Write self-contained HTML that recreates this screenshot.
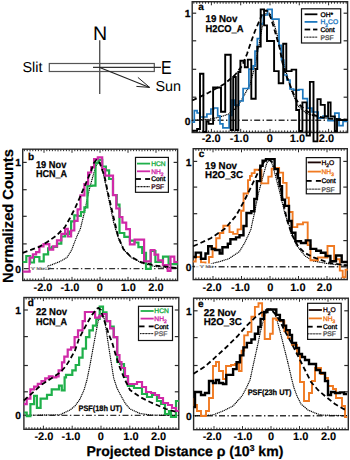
<!DOCTYPE html>
<html><head><meta charset="utf-8"><style>
html,body{margin:0;padding:0;background:#fff;width:350px;height:460px;overflow:hidden}
svg{display:block}
text{font-family:"Liberation Sans", sans-serif;text-rendering:geometricPrecision}
</style></head><body>
<svg width="350" height="460" viewBox="0 0 350 460" font-family='"Liberation Sans", sans-serif'>
<rect width="350" height="460" fill="#fff"/>
<rect x="192.2" y="1.7" width="155.40" height="130.80" fill="none" stroke="#2a2a2a" stroke-width="1.4"/>
<line x1="193.82" y1="1.70" x2="193.82" y2="3.70" stroke="#2a2a2a" stroke-width="1.0" />
<line x1="193.82" y1="132.50" x2="193.82" y2="130.50" stroke="#2a2a2a" stroke-width="1.0" />
<line x1="196.75" y1="1.70" x2="196.75" y2="3.90" stroke="#2a2a2a" stroke-width="1.0" />
<line x1="196.75" y1="132.50" x2="196.75" y2="130.30" stroke="#2a2a2a" stroke-width="1.0" />
<line x1="199.68" y1="1.70" x2="199.68" y2="3.70" stroke="#2a2a2a" stroke-width="1.0" />
<line x1="199.68" y1="132.50" x2="199.68" y2="130.50" stroke="#2a2a2a" stroke-width="1.0" />
<line x1="202.61" y1="1.70" x2="202.61" y2="3.70" stroke="#2a2a2a" stroke-width="1.0" />
<line x1="202.61" y1="132.50" x2="202.61" y2="130.50" stroke="#2a2a2a" stroke-width="1.0" />
<line x1="205.54" y1="1.70" x2="205.54" y2="3.70" stroke="#2a2a2a" stroke-width="1.0" />
<line x1="205.54" y1="132.50" x2="205.54" y2="130.50" stroke="#2a2a2a" stroke-width="1.0" />
<line x1="208.47" y1="1.70" x2="208.47" y2="3.70" stroke="#2a2a2a" stroke-width="1.0" />
<line x1="208.47" y1="132.50" x2="208.47" y2="130.50" stroke="#2a2a2a" stroke-width="1.0" />
<line x1="211.40" y1="1.70" x2="211.40" y2="5.30" stroke="#2a2a2a" stroke-width="1.0" />
<line x1="211.40" y1="132.50" x2="211.40" y2="128.90" stroke="#2a2a2a" stroke-width="1.0" />
<line x1="214.33" y1="1.70" x2="214.33" y2="3.70" stroke="#2a2a2a" stroke-width="1.0" />
<line x1="214.33" y1="132.50" x2="214.33" y2="130.50" stroke="#2a2a2a" stroke-width="1.0" />
<line x1="217.26" y1="1.70" x2="217.26" y2="3.70" stroke="#2a2a2a" stroke-width="1.0" />
<line x1="217.26" y1="132.50" x2="217.26" y2="130.50" stroke="#2a2a2a" stroke-width="1.0" />
<line x1="220.19" y1="1.70" x2="220.19" y2="3.70" stroke="#2a2a2a" stroke-width="1.0" />
<line x1="220.19" y1="132.50" x2="220.19" y2="130.50" stroke="#2a2a2a" stroke-width="1.0" />
<line x1="223.12" y1="1.70" x2="223.12" y2="3.70" stroke="#2a2a2a" stroke-width="1.0" />
<line x1="223.12" y1="132.50" x2="223.12" y2="130.50" stroke="#2a2a2a" stroke-width="1.0" />
<line x1="226.05" y1="1.70" x2="226.05" y2="3.90" stroke="#2a2a2a" stroke-width="1.0" />
<line x1="226.05" y1="132.50" x2="226.05" y2="130.30" stroke="#2a2a2a" stroke-width="1.0" />
<line x1="228.98" y1="1.70" x2="228.98" y2="3.70" stroke="#2a2a2a" stroke-width="1.0" />
<line x1="228.98" y1="132.50" x2="228.98" y2="130.50" stroke="#2a2a2a" stroke-width="1.0" />
<line x1="231.91" y1="1.70" x2="231.91" y2="3.70" stroke="#2a2a2a" stroke-width="1.0" />
<line x1="231.91" y1="132.50" x2="231.91" y2="130.50" stroke="#2a2a2a" stroke-width="1.0" />
<line x1="234.84" y1="1.70" x2="234.84" y2="3.70" stroke="#2a2a2a" stroke-width="1.0" />
<line x1="234.84" y1="132.50" x2="234.84" y2="130.50" stroke="#2a2a2a" stroke-width="1.0" />
<line x1="237.77" y1="1.70" x2="237.77" y2="3.70" stroke="#2a2a2a" stroke-width="1.0" />
<line x1="237.77" y1="132.50" x2="237.77" y2="130.50" stroke="#2a2a2a" stroke-width="1.0" />
<line x1="240.70" y1="1.70" x2="240.70" y2="5.30" stroke="#2a2a2a" stroke-width="1.0" />
<line x1="240.70" y1="132.50" x2="240.70" y2="128.90" stroke="#2a2a2a" stroke-width="1.0" />
<line x1="243.63" y1="1.70" x2="243.63" y2="3.70" stroke="#2a2a2a" stroke-width="1.0" />
<line x1="243.63" y1="132.50" x2="243.63" y2="130.50" stroke="#2a2a2a" stroke-width="1.0" />
<line x1="246.56" y1="1.70" x2="246.56" y2="3.70" stroke="#2a2a2a" stroke-width="1.0" />
<line x1="246.56" y1="132.50" x2="246.56" y2="130.50" stroke="#2a2a2a" stroke-width="1.0" />
<line x1="249.49" y1="1.70" x2="249.49" y2="3.70" stroke="#2a2a2a" stroke-width="1.0" />
<line x1="249.49" y1="132.50" x2="249.49" y2="130.50" stroke="#2a2a2a" stroke-width="1.0" />
<line x1="252.42" y1="1.70" x2="252.42" y2="3.70" stroke="#2a2a2a" stroke-width="1.0" />
<line x1="252.42" y1="132.50" x2="252.42" y2="130.50" stroke="#2a2a2a" stroke-width="1.0" />
<line x1="255.35" y1="1.70" x2="255.35" y2="3.90" stroke="#2a2a2a" stroke-width="1.0" />
<line x1="255.35" y1="132.50" x2="255.35" y2="130.30" stroke="#2a2a2a" stroke-width="1.0" />
<line x1="258.28" y1="1.70" x2="258.28" y2="3.70" stroke="#2a2a2a" stroke-width="1.0" />
<line x1="258.28" y1="132.50" x2="258.28" y2="130.50" stroke="#2a2a2a" stroke-width="1.0" />
<line x1="261.21" y1="1.70" x2="261.21" y2="3.70" stroke="#2a2a2a" stroke-width="1.0" />
<line x1="261.21" y1="132.50" x2="261.21" y2="130.50" stroke="#2a2a2a" stroke-width="1.0" />
<line x1="264.14" y1="1.70" x2="264.14" y2="3.70" stroke="#2a2a2a" stroke-width="1.0" />
<line x1="264.14" y1="132.50" x2="264.14" y2="130.50" stroke="#2a2a2a" stroke-width="1.0" />
<line x1="267.07" y1="1.70" x2="267.07" y2="3.70" stroke="#2a2a2a" stroke-width="1.0" />
<line x1="267.07" y1="132.50" x2="267.07" y2="130.50" stroke="#2a2a2a" stroke-width="1.0" />
<line x1="270.00" y1="1.70" x2="270.00" y2="5.30" stroke="#2a2a2a" stroke-width="1.0" />
<line x1="270.00" y1="132.50" x2="270.00" y2="128.90" stroke="#2a2a2a" stroke-width="1.0" />
<line x1="272.93" y1="1.70" x2="272.93" y2="3.70" stroke="#2a2a2a" stroke-width="1.0" />
<line x1="272.93" y1="132.50" x2="272.93" y2="130.50" stroke="#2a2a2a" stroke-width="1.0" />
<line x1="275.86" y1="1.70" x2="275.86" y2="3.70" stroke="#2a2a2a" stroke-width="1.0" />
<line x1="275.86" y1="132.50" x2="275.86" y2="130.50" stroke="#2a2a2a" stroke-width="1.0" />
<line x1="278.79" y1="1.70" x2="278.79" y2="3.70" stroke="#2a2a2a" stroke-width="1.0" />
<line x1="278.79" y1="132.50" x2="278.79" y2="130.50" stroke="#2a2a2a" stroke-width="1.0" />
<line x1="281.72" y1="1.70" x2="281.72" y2="3.70" stroke="#2a2a2a" stroke-width="1.0" />
<line x1="281.72" y1="132.50" x2="281.72" y2="130.50" stroke="#2a2a2a" stroke-width="1.0" />
<line x1="284.65" y1="1.70" x2="284.65" y2="3.90" stroke="#2a2a2a" stroke-width="1.0" />
<line x1="284.65" y1="132.50" x2="284.65" y2="130.30" stroke="#2a2a2a" stroke-width="1.0" />
<line x1="287.58" y1="1.70" x2="287.58" y2="3.70" stroke="#2a2a2a" stroke-width="1.0" />
<line x1="287.58" y1="132.50" x2="287.58" y2="130.50" stroke="#2a2a2a" stroke-width="1.0" />
<line x1="290.51" y1="1.70" x2="290.51" y2="3.70" stroke="#2a2a2a" stroke-width="1.0" />
<line x1="290.51" y1="132.50" x2="290.51" y2="130.50" stroke="#2a2a2a" stroke-width="1.0" />
<line x1="293.44" y1="1.70" x2="293.44" y2="3.70" stroke="#2a2a2a" stroke-width="1.0" />
<line x1="293.44" y1="132.50" x2="293.44" y2="130.50" stroke="#2a2a2a" stroke-width="1.0" />
<line x1="296.37" y1="1.70" x2="296.37" y2="3.70" stroke="#2a2a2a" stroke-width="1.0" />
<line x1="296.37" y1="132.50" x2="296.37" y2="130.50" stroke="#2a2a2a" stroke-width="1.0" />
<line x1="299.30" y1="1.70" x2="299.30" y2="5.30" stroke="#2a2a2a" stroke-width="1.0" />
<line x1="299.30" y1="132.50" x2="299.30" y2="128.90" stroke="#2a2a2a" stroke-width="1.0" />
<line x1="302.23" y1="1.70" x2="302.23" y2="3.70" stroke="#2a2a2a" stroke-width="1.0" />
<line x1="302.23" y1="132.50" x2="302.23" y2="130.50" stroke="#2a2a2a" stroke-width="1.0" />
<line x1="305.16" y1="1.70" x2="305.16" y2="3.70" stroke="#2a2a2a" stroke-width="1.0" />
<line x1="305.16" y1="132.50" x2="305.16" y2="130.50" stroke="#2a2a2a" stroke-width="1.0" />
<line x1="308.09" y1="1.70" x2="308.09" y2="3.70" stroke="#2a2a2a" stroke-width="1.0" />
<line x1="308.09" y1="132.50" x2="308.09" y2="130.50" stroke="#2a2a2a" stroke-width="1.0" />
<line x1="311.02" y1="1.70" x2="311.02" y2="3.70" stroke="#2a2a2a" stroke-width="1.0" />
<line x1="311.02" y1="132.50" x2="311.02" y2="130.50" stroke="#2a2a2a" stroke-width="1.0" />
<line x1="313.95" y1="1.70" x2="313.95" y2="3.90" stroke="#2a2a2a" stroke-width="1.0" />
<line x1="313.95" y1="132.50" x2="313.95" y2="130.30" stroke="#2a2a2a" stroke-width="1.0" />
<line x1="316.88" y1="1.70" x2="316.88" y2="3.70" stroke="#2a2a2a" stroke-width="1.0" />
<line x1="316.88" y1="132.50" x2="316.88" y2="130.50" stroke="#2a2a2a" stroke-width="1.0" />
<line x1="319.81" y1="1.70" x2="319.81" y2="3.70" stroke="#2a2a2a" stroke-width="1.0" />
<line x1="319.81" y1="132.50" x2="319.81" y2="130.50" stroke="#2a2a2a" stroke-width="1.0" />
<line x1="322.74" y1="1.70" x2="322.74" y2="3.70" stroke="#2a2a2a" stroke-width="1.0" />
<line x1="322.74" y1="132.50" x2="322.74" y2="130.50" stroke="#2a2a2a" stroke-width="1.0" />
<line x1="325.67" y1="1.70" x2="325.67" y2="3.70" stroke="#2a2a2a" stroke-width="1.0" />
<line x1="325.67" y1="132.50" x2="325.67" y2="130.50" stroke="#2a2a2a" stroke-width="1.0" />
<line x1="328.60" y1="1.70" x2="328.60" y2="5.30" stroke="#2a2a2a" stroke-width="1.0" />
<line x1="328.60" y1="132.50" x2="328.60" y2="128.90" stroke="#2a2a2a" stroke-width="1.0" />
<line x1="331.53" y1="1.70" x2="331.53" y2="3.70" stroke="#2a2a2a" stroke-width="1.0" />
<line x1="331.53" y1="132.50" x2="331.53" y2="130.50" stroke="#2a2a2a" stroke-width="1.0" />
<line x1="334.46" y1="1.70" x2="334.46" y2="3.70" stroke="#2a2a2a" stroke-width="1.0" />
<line x1="334.46" y1="132.50" x2="334.46" y2="130.50" stroke="#2a2a2a" stroke-width="1.0" />
<line x1="337.39" y1="1.70" x2="337.39" y2="3.70" stroke="#2a2a2a" stroke-width="1.0" />
<line x1="337.39" y1="132.50" x2="337.39" y2="130.50" stroke="#2a2a2a" stroke-width="1.0" />
<line x1="340.32" y1="1.70" x2="340.32" y2="3.70" stroke="#2a2a2a" stroke-width="1.0" />
<line x1="340.32" y1="132.50" x2="340.32" y2="130.50" stroke="#2a2a2a" stroke-width="1.0" />
<line x1="343.25" y1="1.70" x2="343.25" y2="3.90" stroke="#2a2a2a" stroke-width="1.0" />
<line x1="343.25" y1="132.50" x2="343.25" y2="130.30" stroke="#2a2a2a" stroke-width="1.0" />
<line x1="346.18" y1="1.70" x2="346.18" y2="3.70" stroke="#2a2a2a" stroke-width="1.0" />
<line x1="346.18" y1="132.50" x2="346.18" y2="130.50" stroke="#2a2a2a" stroke-width="1.0" />
<line x1="192.20" y1="13.20" x2="196.20" y2="13.20" stroke="#2a2a2a" stroke-width="1.2" />
<line x1="347.60" y1="13.20" x2="343.60" y2="13.20" stroke="#2a2a2a" stroke-width="1.2" />
<line x1="192.20" y1="40.80" x2="196.20" y2="40.80" stroke="#2a2a2a" stroke-width="1.2" />
<line x1="347.60" y1="40.80" x2="343.60" y2="40.80" stroke="#2a2a2a" stroke-width="1.2" />
<line x1="192.20" y1="69.30" x2="196.20" y2="69.30" stroke="#2a2a2a" stroke-width="1.2" />
<line x1="347.60" y1="69.30" x2="343.60" y2="69.30" stroke="#2a2a2a" stroke-width="1.2" />
<line x1="192.20" y1="97.20" x2="196.20" y2="97.20" stroke="#2a2a2a" stroke-width="1.2" />
<line x1="347.60" y1="97.20" x2="343.60" y2="97.20" stroke="#2a2a2a" stroke-width="1.2" />
<text x="211.20" y="142.10" font-size="11" font-weight="bold" fill="#000" stroke="#000" stroke-width="0.1" text-anchor="middle" >-2.0</text>
<text x="239.30" y="142.10" font-size="11" font-weight="bold" fill="#000" stroke="#000" stroke-width="0.1" text-anchor="middle" >-1.0</text>
<text x="269.70" y="142.10" font-size="11" font-weight="bold" fill="#000" stroke="#000" stroke-width="0.1" text-anchor="middle" >0</text>
<text x="297.50" y="142.10" font-size="11" font-weight="bold" fill="#000" stroke="#000" stroke-width="0.1" text-anchor="middle" >1.0</text>
<text x="326.50" y="142.10" font-size="11" font-weight="bold" fill="#000" stroke="#000" stroke-width="0.1" text-anchor="middle" >2.0</text>
<text x="190.40" y="17.40" font-size="10.3" font-weight="bold" fill="#000" stroke="#000" stroke-width="0.25" text-anchor="end" >1</text>
<text x="190.40" y="124.50" font-size="10.3" font-weight="bold" fill="#000" stroke="#000" stroke-width="0.25" text-anchor="end" >0</text>
<text x="198.20" y="9.60" font-size="10" font-weight="bold" fill="#000" stroke="#000" stroke-width="0.25" text-anchor="start" >a</text>
<text x="205.50" y="22.10" font-size="9.9" font-weight="bold" fill="#000" stroke="#000" stroke-width="0.25" text-anchor="start" textLength="31.9" lengthAdjust="spacingAndGlyphs">19 Nov</text>
<text x="205.50" y="31.60" font-size="9.9" font-weight="bold" fill="#000" stroke="#000" stroke-width="0.25" text-anchor="start" textLength="38.0" lengthAdjust="spacingAndGlyphs">H2CO_A</text>
<rect x="22.7" y="149.2" width="154.90" height="131.30" fill="none" stroke="#2a2a2a" stroke-width="1.4"/>
<line x1="24.40" y1="149.20" x2="24.40" y2="151.20" stroke="#2a2a2a" stroke-width="1.0" />
<line x1="24.40" y1="280.50" x2="24.40" y2="278.50" stroke="#2a2a2a" stroke-width="1.0" />
<line x1="27.20" y1="149.20" x2="27.20" y2="151.20" stroke="#2a2a2a" stroke-width="1.0" />
<line x1="27.20" y1="280.50" x2="27.20" y2="278.50" stroke="#2a2a2a" stroke-width="1.0" />
<line x1="30.00" y1="149.20" x2="30.00" y2="151.40" stroke="#2a2a2a" stroke-width="1.0" />
<line x1="30.00" y1="280.50" x2="30.00" y2="278.30" stroke="#2a2a2a" stroke-width="1.0" />
<line x1="32.80" y1="149.20" x2="32.80" y2="151.20" stroke="#2a2a2a" stroke-width="1.0" />
<line x1="32.80" y1="280.50" x2="32.80" y2="278.50" stroke="#2a2a2a" stroke-width="1.0" />
<line x1="35.60" y1="149.20" x2="35.60" y2="151.20" stroke="#2a2a2a" stroke-width="1.0" />
<line x1="35.60" y1="280.50" x2="35.60" y2="278.50" stroke="#2a2a2a" stroke-width="1.0" />
<line x1="38.40" y1="149.20" x2="38.40" y2="151.20" stroke="#2a2a2a" stroke-width="1.0" />
<line x1="38.40" y1="280.50" x2="38.40" y2="278.50" stroke="#2a2a2a" stroke-width="1.0" />
<line x1="41.20" y1="149.20" x2="41.20" y2="151.20" stroke="#2a2a2a" stroke-width="1.0" />
<line x1="41.20" y1="280.50" x2="41.20" y2="278.50" stroke="#2a2a2a" stroke-width="1.0" />
<line x1="44.00" y1="149.20" x2="44.00" y2="152.80" stroke="#2a2a2a" stroke-width="1.0" />
<line x1="44.00" y1="280.50" x2="44.00" y2="276.90" stroke="#2a2a2a" stroke-width="1.0" />
<line x1="46.80" y1="149.20" x2="46.80" y2="151.20" stroke="#2a2a2a" stroke-width="1.0" />
<line x1="46.80" y1="280.50" x2="46.80" y2="278.50" stroke="#2a2a2a" stroke-width="1.0" />
<line x1="49.60" y1="149.20" x2="49.60" y2="151.20" stroke="#2a2a2a" stroke-width="1.0" />
<line x1="49.60" y1="280.50" x2="49.60" y2="278.50" stroke="#2a2a2a" stroke-width="1.0" />
<line x1="52.40" y1="149.20" x2="52.40" y2="151.20" stroke="#2a2a2a" stroke-width="1.0" />
<line x1="52.40" y1="280.50" x2="52.40" y2="278.50" stroke="#2a2a2a" stroke-width="1.0" />
<line x1="55.20" y1="149.20" x2="55.20" y2="151.20" stroke="#2a2a2a" stroke-width="1.0" />
<line x1="55.20" y1="280.50" x2="55.20" y2="278.50" stroke="#2a2a2a" stroke-width="1.0" />
<line x1="58.00" y1="149.20" x2="58.00" y2="151.40" stroke="#2a2a2a" stroke-width="1.0" />
<line x1="58.00" y1="280.50" x2="58.00" y2="278.30" stroke="#2a2a2a" stroke-width="1.0" />
<line x1="60.80" y1="149.20" x2="60.80" y2="151.20" stroke="#2a2a2a" stroke-width="1.0" />
<line x1="60.80" y1="280.50" x2="60.80" y2="278.50" stroke="#2a2a2a" stroke-width="1.0" />
<line x1="63.60" y1="149.20" x2="63.60" y2="151.20" stroke="#2a2a2a" stroke-width="1.0" />
<line x1="63.60" y1="280.50" x2="63.60" y2="278.50" stroke="#2a2a2a" stroke-width="1.0" />
<line x1="66.40" y1="149.20" x2="66.40" y2="151.20" stroke="#2a2a2a" stroke-width="1.0" />
<line x1="66.40" y1="280.50" x2="66.40" y2="278.50" stroke="#2a2a2a" stroke-width="1.0" />
<line x1="69.20" y1="149.20" x2="69.20" y2="151.20" stroke="#2a2a2a" stroke-width="1.0" />
<line x1="69.20" y1="280.50" x2="69.20" y2="278.50" stroke="#2a2a2a" stroke-width="1.0" />
<line x1="72.00" y1="149.20" x2="72.00" y2="152.80" stroke="#2a2a2a" stroke-width="1.0" />
<line x1="72.00" y1="280.50" x2="72.00" y2="276.90" stroke="#2a2a2a" stroke-width="1.0" />
<line x1="74.80" y1="149.20" x2="74.80" y2="151.20" stroke="#2a2a2a" stroke-width="1.0" />
<line x1="74.80" y1="280.50" x2="74.80" y2="278.50" stroke="#2a2a2a" stroke-width="1.0" />
<line x1="77.60" y1="149.20" x2="77.60" y2="151.20" stroke="#2a2a2a" stroke-width="1.0" />
<line x1="77.60" y1="280.50" x2="77.60" y2="278.50" stroke="#2a2a2a" stroke-width="1.0" />
<line x1="80.40" y1="149.20" x2="80.40" y2="151.20" stroke="#2a2a2a" stroke-width="1.0" />
<line x1="80.40" y1="280.50" x2="80.40" y2="278.50" stroke="#2a2a2a" stroke-width="1.0" />
<line x1="83.20" y1="149.20" x2="83.20" y2="151.20" stroke="#2a2a2a" stroke-width="1.0" />
<line x1="83.20" y1="280.50" x2="83.20" y2="278.50" stroke="#2a2a2a" stroke-width="1.0" />
<line x1="86.00" y1="149.20" x2="86.00" y2="151.40" stroke="#2a2a2a" stroke-width="1.0" />
<line x1="86.00" y1="280.50" x2="86.00" y2="278.30" stroke="#2a2a2a" stroke-width="1.0" />
<line x1="88.80" y1="149.20" x2="88.80" y2="151.20" stroke="#2a2a2a" stroke-width="1.0" />
<line x1="88.80" y1="280.50" x2="88.80" y2="278.50" stroke="#2a2a2a" stroke-width="1.0" />
<line x1="91.60" y1="149.20" x2="91.60" y2="151.20" stroke="#2a2a2a" stroke-width="1.0" />
<line x1="91.60" y1="280.50" x2="91.60" y2="278.50" stroke="#2a2a2a" stroke-width="1.0" />
<line x1="94.40" y1="149.20" x2="94.40" y2="151.20" stroke="#2a2a2a" stroke-width="1.0" />
<line x1="94.40" y1="280.50" x2="94.40" y2="278.50" stroke="#2a2a2a" stroke-width="1.0" />
<line x1="97.20" y1="149.20" x2="97.20" y2="151.20" stroke="#2a2a2a" stroke-width="1.0" />
<line x1="97.20" y1="280.50" x2="97.20" y2="278.50" stroke="#2a2a2a" stroke-width="1.0" />
<line x1="100.00" y1="149.20" x2="100.00" y2="152.80" stroke="#2a2a2a" stroke-width="1.0" />
<line x1="100.00" y1="280.50" x2="100.00" y2="276.90" stroke="#2a2a2a" stroke-width="1.0" />
<line x1="102.80" y1="149.20" x2="102.80" y2="151.20" stroke="#2a2a2a" stroke-width="1.0" />
<line x1="102.80" y1="280.50" x2="102.80" y2="278.50" stroke="#2a2a2a" stroke-width="1.0" />
<line x1="105.60" y1="149.20" x2="105.60" y2="151.20" stroke="#2a2a2a" stroke-width="1.0" />
<line x1="105.60" y1="280.50" x2="105.60" y2="278.50" stroke="#2a2a2a" stroke-width="1.0" />
<line x1="108.40" y1="149.20" x2="108.40" y2="151.20" stroke="#2a2a2a" stroke-width="1.0" />
<line x1="108.40" y1="280.50" x2="108.40" y2="278.50" stroke="#2a2a2a" stroke-width="1.0" />
<line x1="111.20" y1="149.20" x2="111.20" y2="151.20" stroke="#2a2a2a" stroke-width="1.0" />
<line x1="111.20" y1="280.50" x2="111.20" y2="278.50" stroke="#2a2a2a" stroke-width="1.0" />
<line x1="114.00" y1="149.20" x2="114.00" y2="151.40" stroke="#2a2a2a" stroke-width="1.0" />
<line x1="114.00" y1="280.50" x2="114.00" y2="278.30" stroke="#2a2a2a" stroke-width="1.0" />
<line x1="116.80" y1="149.20" x2="116.80" y2="151.20" stroke="#2a2a2a" stroke-width="1.0" />
<line x1="116.80" y1="280.50" x2="116.80" y2="278.50" stroke="#2a2a2a" stroke-width="1.0" />
<line x1="119.60" y1="149.20" x2="119.60" y2="151.20" stroke="#2a2a2a" stroke-width="1.0" />
<line x1="119.60" y1="280.50" x2="119.60" y2="278.50" stroke="#2a2a2a" stroke-width="1.0" />
<line x1="122.40" y1="149.20" x2="122.40" y2="151.20" stroke="#2a2a2a" stroke-width="1.0" />
<line x1="122.40" y1="280.50" x2="122.40" y2="278.50" stroke="#2a2a2a" stroke-width="1.0" />
<line x1="125.20" y1="149.20" x2="125.20" y2="151.20" stroke="#2a2a2a" stroke-width="1.0" />
<line x1="125.20" y1="280.50" x2="125.20" y2="278.50" stroke="#2a2a2a" stroke-width="1.0" />
<line x1="128.00" y1="149.20" x2="128.00" y2="152.80" stroke="#2a2a2a" stroke-width="1.0" />
<line x1="128.00" y1="280.50" x2="128.00" y2="276.90" stroke="#2a2a2a" stroke-width="1.0" />
<line x1="130.80" y1="149.20" x2="130.80" y2="151.20" stroke="#2a2a2a" stroke-width="1.0" />
<line x1="130.80" y1="280.50" x2="130.80" y2="278.50" stroke="#2a2a2a" stroke-width="1.0" />
<line x1="133.60" y1="149.20" x2="133.60" y2="151.20" stroke="#2a2a2a" stroke-width="1.0" />
<line x1="133.60" y1="280.50" x2="133.60" y2="278.50" stroke="#2a2a2a" stroke-width="1.0" />
<line x1="136.40" y1="149.20" x2="136.40" y2="151.20" stroke="#2a2a2a" stroke-width="1.0" />
<line x1="136.40" y1="280.50" x2="136.40" y2="278.50" stroke="#2a2a2a" stroke-width="1.0" />
<line x1="139.20" y1="149.20" x2="139.20" y2="151.20" stroke="#2a2a2a" stroke-width="1.0" />
<line x1="139.20" y1="280.50" x2="139.20" y2="278.50" stroke="#2a2a2a" stroke-width="1.0" />
<line x1="142.00" y1="149.20" x2="142.00" y2="151.40" stroke="#2a2a2a" stroke-width="1.0" />
<line x1="142.00" y1="280.50" x2="142.00" y2="278.30" stroke="#2a2a2a" stroke-width="1.0" />
<line x1="144.80" y1="149.20" x2="144.80" y2="151.20" stroke="#2a2a2a" stroke-width="1.0" />
<line x1="144.80" y1="280.50" x2="144.80" y2="278.50" stroke="#2a2a2a" stroke-width="1.0" />
<line x1="147.60" y1="149.20" x2="147.60" y2="151.20" stroke="#2a2a2a" stroke-width="1.0" />
<line x1="147.60" y1="280.50" x2="147.60" y2="278.50" stroke="#2a2a2a" stroke-width="1.0" />
<line x1="150.40" y1="149.20" x2="150.40" y2="151.20" stroke="#2a2a2a" stroke-width="1.0" />
<line x1="150.40" y1="280.50" x2="150.40" y2="278.50" stroke="#2a2a2a" stroke-width="1.0" />
<line x1="153.20" y1="149.20" x2="153.20" y2="151.20" stroke="#2a2a2a" stroke-width="1.0" />
<line x1="153.20" y1="280.50" x2="153.20" y2="278.50" stroke="#2a2a2a" stroke-width="1.0" />
<line x1="156.00" y1="149.20" x2="156.00" y2="152.80" stroke="#2a2a2a" stroke-width="1.0" />
<line x1="156.00" y1="280.50" x2="156.00" y2="276.90" stroke="#2a2a2a" stroke-width="1.0" />
<line x1="158.80" y1="149.20" x2="158.80" y2="151.20" stroke="#2a2a2a" stroke-width="1.0" />
<line x1="158.80" y1="280.50" x2="158.80" y2="278.50" stroke="#2a2a2a" stroke-width="1.0" />
<line x1="161.60" y1="149.20" x2="161.60" y2="151.20" stroke="#2a2a2a" stroke-width="1.0" />
<line x1="161.60" y1="280.50" x2="161.60" y2="278.50" stroke="#2a2a2a" stroke-width="1.0" />
<line x1="164.40" y1="149.20" x2="164.40" y2="151.20" stroke="#2a2a2a" stroke-width="1.0" />
<line x1="164.40" y1="280.50" x2="164.40" y2="278.50" stroke="#2a2a2a" stroke-width="1.0" />
<line x1="167.20" y1="149.20" x2="167.20" y2="151.20" stroke="#2a2a2a" stroke-width="1.0" />
<line x1="167.20" y1="280.50" x2="167.20" y2="278.50" stroke="#2a2a2a" stroke-width="1.0" />
<line x1="170.00" y1="149.20" x2="170.00" y2="151.40" stroke="#2a2a2a" stroke-width="1.0" />
<line x1="170.00" y1="280.50" x2="170.00" y2="278.30" stroke="#2a2a2a" stroke-width="1.0" />
<line x1="172.80" y1="149.20" x2="172.80" y2="151.20" stroke="#2a2a2a" stroke-width="1.0" />
<line x1="172.80" y1="280.50" x2="172.80" y2="278.50" stroke="#2a2a2a" stroke-width="1.0" />
<line x1="175.60" y1="149.20" x2="175.60" y2="151.20" stroke="#2a2a2a" stroke-width="1.0" />
<line x1="175.60" y1="280.50" x2="175.60" y2="278.50" stroke="#2a2a2a" stroke-width="1.0" />
<line x1="22.70" y1="162.40" x2="26.70" y2="162.40" stroke="#2a2a2a" stroke-width="1.2" />
<line x1="177.60" y1="162.40" x2="173.60" y2="162.40" stroke="#2a2a2a" stroke-width="1.2" />
<line x1="22.70" y1="189.70" x2="26.70" y2="189.70" stroke="#2a2a2a" stroke-width="1.2" />
<line x1="177.60" y1="189.70" x2="173.60" y2="189.70" stroke="#2a2a2a" stroke-width="1.2" />
<line x1="22.70" y1="216.30" x2="26.70" y2="216.30" stroke="#2a2a2a" stroke-width="1.2" />
<line x1="177.60" y1="216.30" x2="173.60" y2="216.30" stroke="#2a2a2a" stroke-width="1.2" />
<line x1="22.70" y1="243.90" x2="26.70" y2="243.90" stroke="#2a2a2a" stroke-width="1.2" />
<line x1="177.60" y1="243.90" x2="173.60" y2="243.90" stroke="#2a2a2a" stroke-width="1.2" />
<text x="43.00" y="290.60" font-size="11" font-weight="bold" fill="#000" stroke="#000" stroke-width="0.1" text-anchor="middle" >-2.0</text>
<text x="69.90" y="290.60" font-size="11" font-weight="bold" fill="#000" stroke="#000" stroke-width="0.1" text-anchor="middle" >-1.0</text>
<text x="99.90" y="290.60" font-size="11" font-weight="bold" fill="#000" stroke="#000" stroke-width="0.1" text-anchor="middle" >0</text>
<text x="128.30" y="290.60" font-size="11" font-weight="bold" fill="#000" stroke="#000" stroke-width="0.1" text-anchor="middle" >1.0</text>
<text x="156.00" y="290.60" font-size="11" font-weight="bold" fill="#000" stroke="#000" stroke-width="0.1" text-anchor="middle" >2.0</text>
<text x="20.90" y="166.40" font-size="10.3" font-weight="bold" fill="#000" stroke="#000" stroke-width="0.25" text-anchor="end" >1</text>
<text x="20.90" y="272.60" font-size="10.3" font-weight="bold" fill="#000" stroke="#000" stroke-width="0.25" text-anchor="end" >0</text>
<text x="28.00" y="160.30" font-size="10" font-weight="bold" fill="#000" stroke="#000" stroke-width="0.25" text-anchor="start" >b</text>
<text x="35.90" y="168.00" font-size="9.9" font-weight="bold" fill="#000" stroke="#000" stroke-width="0.25" text-anchor="start" textLength="30.4" lengthAdjust="spacingAndGlyphs">19 Nov</text>
<text x="35.90" y="176.60" font-size="9.9" font-weight="bold" fill="#000" stroke="#000" stroke-width="0.25" text-anchor="start" textLength="31.2" lengthAdjust="spacingAndGlyphs">HCN_A</text>
<rect x="193.2" y="148.7" width="154.10" height="130.90" fill="none" stroke="#2a2a2a" stroke-width="1.4"/>
<line x1="195.90" y1="148.70" x2="195.90" y2="150.70" stroke="#2a2a2a" stroke-width="1.0" />
<line x1="195.90" y1="279.60" x2="195.90" y2="277.60" stroke="#2a2a2a" stroke-width="1.0" />
<line x1="198.75" y1="148.70" x2="198.75" y2="150.90" stroke="#2a2a2a" stroke-width="1.0" />
<line x1="198.75" y1="279.60" x2="198.75" y2="277.40" stroke="#2a2a2a" stroke-width="1.0" />
<line x1="201.60" y1="148.70" x2="201.60" y2="150.70" stroke="#2a2a2a" stroke-width="1.0" />
<line x1="201.60" y1="279.60" x2="201.60" y2="277.60" stroke="#2a2a2a" stroke-width="1.0" />
<line x1="204.45" y1="148.70" x2="204.45" y2="150.70" stroke="#2a2a2a" stroke-width="1.0" />
<line x1="204.45" y1="279.60" x2="204.45" y2="277.60" stroke="#2a2a2a" stroke-width="1.0" />
<line x1="207.30" y1="148.70" x2="207.30" y2="150.70" stroke="#2a2a2a" stroke-width="1.0" />
<line x1="207.30" y1="279.60" x2="207.30" y2="277.60" stroke="#2a2a2a" stroke-width="1.0" />
<line x1="210.15" y1="148.70" x2="210.15" y2="150.70" stroke="#2a2a2a" stroke-width="1.0" />
<line x1="210.15" y1="279.60" x2="210.15" y2="277.60" stroke="#2a2a2a" stroke-width="1.0" />
<line x1="213.00" y1="148.70" x2="213.00" y2="152.30" stroke="#2a2a2a" stroke-width="1.0" />
<line x1="213.00" y1="279.60" x2="213.00" y2="276.00" stroke="#2a2a2a" stroke-width="1.0" />
<line x1="215.85" y1="148.70" x2="215.85" y2="150.70" stroke="#2a2a2a" stroke-width="1.0" />
<line x1="215.85" y1="279.60" x2="215.85" y2="277.60" stroke="#2a2a2a" stroke-width="1.0" />
<line x1="218.70" y1="148.70" x2="218.70" y2="150.70" stroke="#2a2a2a" stroke-width="1.0" />
<line x1="218.70" y1="279.60" x2="218.70" y2="277.60" stroke="#2a2a2a" stroke-width="1.0" />
<line x1="221.55" y1="148.70" x2="221.55" y2="150.70" stroke="#2a2a2a" stroke-width="1.0" />
<line x1="221.55" y1="279.60" x2="221.55" y2="277.60" stroke="#2a2a2a" stroke-width="1.0" />
<line x1="224.40" y1="148.70" x2="224.40" y2="150.70" stroke="#2a2a2a" stroke-width="1.0" />
<line x1="224.40" y1="279.60" x2="224.40" y2="277.60" stroke="#2a2a2a" stroke-width="1.0" />
<line x1="227.25" y1="148.70" x2="227.25" y2="150.90" stroke="#2a2a2a" stroke-width="1.0" />
<line x1="227.25" y1="279.60" x2="227.25" y2="277.40" stroke="#2a2a2a" stroke-width="1.0" />
<line x1="230.10" y1="148.70" x2="230.10" y2="150.70" stroke="#2a2a2a" stroke-width="1.0" />
<line x1="230.10" y1="279.60" x2="230.10" y2="277.60" stroke="#2a2a2a" stroke-width="1.0" />
<line x1="232.95" y1="148.70" x2="232.95" y2="150.70" stroke="#2a2a2a" stroke-width="1.0" />
<line x1="232.95" y1="279.60" x2="232.95" y2="277.60" stroke="#2a2a2a" stroke-width="1.0" />
<line x1="235.80" y1="148.70" x2="235.80" y2="150.70" stroke="#2a2a2a" stroke-width="1.0" />
<line x1="235.80" y1="279.60" x2="235.80" y2="277.60" stroke="#2a2a2a" stroke-width="1.0" />
<line x1="238.65" y1="148.70" x2="238.65" y2="150.70" stroke="#2a2a2a" stroke-width="1.0" />
<line x1="238.65" y1="279.60" x2="238.65" y2="277.60" stroke="#2a2a2a" stroke-width="1.0" />
<line x1="241.50" y1="148.70" x2="241.50" y2="152.30" stroke="#2a2a2a" stroke-width="1.0" />
<line x1="241.50" y1="279.60" x2="241.50" y2="276.00" stroke="#2a2a2a" stroke-width="1.0" />
<line x1="244.35" y1="148.70" x2="244.35" y2="150.70" stroke="#2a2a2a" stroke-width="1.0" />
<line x1="244.35" y1="279.60" x2="244.35" y2="277.60" stroke="#2a2a2a" stroke-width="1.0" />
<line x1="247.20" y1="148.70" x2="247.20" y2="150.70" stroke="#2a2a2a" stroke-width="1.0" />
<line x1="247.20" y1="279.60" x2="247.20" y2="277.60" stroke="#2a2a2a" stroke-width="1.0" />
<line x1="250.05" y1="148.70" x2="250.05" y2="150.70" stroke="#2a2a2a" stroke-width="1.0" />
<line x1="250.05" y1="279.60" x2="250.05" y2="277.60" stroke="#2a2a2a" stroke-width="1.0" />
<line x1="252.90" y1="148.70" x2="252.90" y2="150.70" stroke="#2a2a2a" stroke-width="1.0" />
<line x1="252.90" y1="279.60" x2="252.90" y2="277.60" stroke="#2a2a2a" stroke-width="1.0" />
<line x1="255.75" y1="148.70" x2="255.75" y2="150.90" stroke="#2a2a2a" stroke-width="1.0" />
<line x1="255.75" y1="279.60" x2="255.75" y2="277.40" stroke="#2a2a2a" stroke-width="1.0" />
<line x1="258.60" y1="148.70" x2="258.60" y2="150.70" stroke="#2a2a2a" stroke-width="1.0" />
<line x1="258.60" y1="279.60" x2="258.60" y2="277.60" stroke="#2a2a2a" stroke-width="1.0" />
<line x1="261.45" y1="148.70" x2="261.45" y2="150.70" stroke="#2a2a2a" stroke-width="1.0" />
<line x1="261.45" y1="279.60" x2="261.45" y2="277.60" stroke="#2a2a2a" stroke-width="1.0" />
<line x1="264.30" y1="148.70" x2="264.30" y2="150.70" stroke="#2a2a2a" stroke-width="1.0" />
<line x1="264.30" y1="279.60" x2="264.30" y2="277.60" stroke="#2a2a2a" stroke-width="1.0" />
<line x1="267.15" y1="148.70" x2="267.15" y2="150.70" stroke="#2a2a2a" stroke-width="1.0" />
<line x1="267.15" y1="279.60" x2="267.15" y2="277.60" stroke="#2a2a2a" stroke-width="1.0" />
<line x1="270.00" y1="148.70" x2="270.00" y2="152.30" stroke="#2a2a2a" stroke-width="1.0" />
<line x1="270.00" y1="279.60" x2="270.00" y2="276.00" stroke="#2a2a2a" stroke-width="1.0" />
<line x1="272.85" y1="148.70" x2="272.85" y2="150.70" stroke="#2a2a2a" stroke-width="1.0" />
<line x1="272.85" y1="279.60" x2="272.85" y2="277.60" stroke="#2a2a2a" stroke-width="1.0" />
<line x1="275.70" y1="148.70" x2="275.70" y2="150.70" stroke="#2a2a2a" stroke-width="1.0" />
<line x1="275.70" y1="279.60" x2="275.70" y2="277.60" stroke="#2a2a2a" stroke-width="1.0" />
<line x1="278.55" y1="148.70" x2="278.55" y2="150.70" stroke="#2a2a2a" stroke-width="1.0" />
<line x1="278.55" y1="279.60" x2="278.55" y2="277.60" stroke="#2a2a2a" stroke-width="1.0" />
<line x1="281.40" y1="148.70" x2="281.40" y2="150.70" stroke="#2a2a2a" stroke-width="1.0" />
<line x1="281.40" y1="279.60" x2="281.40" y2="277.60" stroke="#2a2a2a" stroke-width="1.0" />
<line x1="284.25" y1="148.70" x2="284.25" y2="150.90" stroke="#2a2a2a" stroke-width="1.0" />
<line x1="284.25" y1="279.60" x2="284.25" y2="277.40" stroke="#2a2a2a" stroke-width="1.0" />
<line x1="287.10" y1="148.70" x2="287.10" y2="150.70" stroke="#2a2a2a" stroke-width="1.0" />
<line x1="287.10" y1="279.60" x2="287.10" y2="277.60" stroke="#2a2a2a" stroke-width="1.0" />
<line x1="289.95" y1="148.70" x2="289.95" y2="150.70" stroke="#2a2a2a" stroke-width="1.0" />
<line x1="289.95" y1="279.60" x2="289.95" y2="277.60" stroke="#2a2a2a" stroke-width="1.0" />
<line x1="292.80" y1="148.70" x2="292.80" y2="150.70" stroke="#2a2a2a" stroke-width="1.0" />
<line x1="292.80" y1="279.60" x2="292.80" y2="277.60" stroke="#2a2a2a" stroke-width="1.0" />
<line x1="295.65" y1="148.70" x2="295.65" y2="150.70" stroke="#2a2a2a" stroke-width="1.0" />
<line x1="295.65" y1="279.60" x2="295.65" y2="277.60" stroke="#2a2a2a" stroke-width="1.0" />
<line x1="298.50" y1="148.70" x2="298.50" y2="152.30" stroke="#2a2a2a" stroke-width="1.0" />
<line x1="298.50" y1="279.60" x2="298.50" y2="276.00" stroke="#2a2a2a" stroke-width="1.0" />
<line x1="301.35" y1="148.70" x2="301.35" y2="150.70" stroke="#2a2a2a" stroke-width="1.0" />
<line x1="301.35" y1="279.60" x2="301.35" y2="277.60" stroke="#2a2a2a" stroke-width="1.0" />
<line x1="304.20" y1="148.70" x2="304.20" y2="150.70" stroke="#2a2a2a" stroke-width="1.0" />
<line x1="304.20" y1="279.60" x2="304.20" y2="277.60" stroke="#2a2a2a" stroke-width="1.0" />
<line x1="307.05" y1="148.70" x2="307.05" y2="150.70" stroke="#2a2a2a" stroke-width="1.0" />
<line x1="307.05" y1="279.60" x2="307.05" y2="277.60" stroke="#2a2a2a" stroke-width="1.0" />
<line x1="309.90" y1="148.70" x2="309.90" y2="150.70" stroke="#2a2a2a" stroke-width="1.0" />
<line x1="309.90" y1="279.60" x2="309.90" y2="277.60" stroke="#2a2a2a" stroke-width="1.0" />
<line x1="312.75" y1="148.70" x2="312.75" y2="150.90" stroke="#2a2a2a" stroke-width="1.0" />
<line x1="312.75" y1="279.60" x2="312.75" y2="277.40" stroke="#2a2a2a" stroke-width="1.0" />
<line x1="315.60" y1="148.70" x2="315.60" y2="150.70" stroke="#2a2a2a" stroke-width="1.0" />
<line x1="315.60" y1="279.60" x2="315.60" y2="277.60" stroke="#2a2a2a" stroke-width="1.0" />
<line x1="318.45" y1="148.70" x2="318.45" y2="150.70" stroke="#2a2a2a" stroke-width="1.0" />
<line x1="318.45" y1="279.60" x2="318.45" y2="277.60" stroke="#2a2a2a" stroke-width="1.0" />
<line x1="321.30" y1="148.70" x2="321.30" y2="150.70" stroke="#2a2a2a" stroke-width="1.0" />
<line x1="321.30" y1="279.60" x2="321.30" y2="277.60" stroke="#2a2a2a" stroke-width="1.0" />
<line x1="324.15" y1="148.70" x2="324.15" y2="150.70" stroke="#2a2a2a" stroke-width="1.0" />
<line x1="324.15" y1="279.60" x2="324.15" y2="277.60" stroke="#2a2a2a" stroke-width="1.0" />
<line x1="327.00" y1="148.70" x2="327.00" y2="152.30" stroke="#2a2a2a" stroke-width="1.0" />
<line x1="327.00" y1="279.60" x2="327.00" y2="276.00" stroke="#2a2a2a" stroke-width="1.0" />
<line x1="329.85" y1="148.70" x2="329.85" y2="150.70" stroke="#2a2a2a" stroke-width="1.0" />
<line x1="329.85" y1="279.60" x2="329.85" y2="277.60" stroke="#2a2a2a" stroke-width="1.0" />
<line x1="332.70" y1="148.70" x2="332.70" y2="150.70" stroke="#2a2a2a" stroke-width="1.0" />
<line x1="332.70" y1="279.60" x2="332.70" y2="277.60" stroke="#2a2a2a" stroke-width="1.0" />
<line x1="335.55" y1="148.70" x2="335.55" y2="150.70" stroke="#2a2a2a" stroke-width="1.0" />
<line x1="335.55" y1="279.60" x2="335.55" y2="277.60" stroke="#2a2a2a" stroke-width="1.0" />
<line x1="338.40" y1="148.70" x2="338.40" y2="150.70" stroke="#2a2a2a" stroke-width="1.0" />
<line x1="338.40" y1="279.60" x2="338.40" y2="277.60" stroke="#2a2a2a" stroke-width="1.0" />
<line x1="341.25" y1="148.70" x2="341.25" y2="150.90" stroke="#2a2a2a" stroke-width="1.0" />
<line x1="341.25" y1="279.60" x2="341.25" y2="277.40" stroke="#2a2a2a" stroke-width="1.0" />
<line x1="344.10" y1="148.70" x2="344.10" y2="150.70" stroke="#2a2a2a" stroke-width="1.0" />
<line x1="344.10" y1="279.60" x2="344.10" y2="277.60" stroke="#2a2a2a" stroke-width="1.0" />
<line x1="193.20" y1="161.40" x2="197.20" y2="161.40" stroke="#2a2a2a" stroke-width="1.2" />
<line x1="347.30" y1="161.40" x2="343.30" y2="161.40" stroke="#2a2a2a" stroke-width="1.2" />
<line x1="193.20" y1="187.10" x2="197.20" y2="187.10" stroke="#2a2a2a" stroke-width="1.2" />
<line x1="347.30" y1="187.10" x2="343.30" y2="187.10" stroke="#2a2a2a" stroke-width="1.2" />
<line x1="193.20" y1="213.70" x2="197.20" y2="213.70" stroke="#2a2a2a" stroke-width="1.2" />
<line x1="347.30" y1="213.70" x2="343.30" y2="213.70" stroke="#2a2a2a" stroke-width="1.2" />
<line x1="193.20" y1="240.60" x2="197.20" y2="240.60" stroke="#2a2a2a" stroke-width="1.2" />
<line x1="347.30" y1="240.60" x2="343.30" y2="240.60" stroke="#2a2a2a" stroke-width="1.2" />
<text x="212.10" y="290.80" font-size="11" font-weight="bold" fill="#000" stroke="#000" stroke-width="0.1" text-anchor="middle" >-2.0</text>
<text x="240.50" y="290.80" font-size="11" font-weight="bold" fill="#000" stroke="#000" stroke-width="0.1" text-anchor="middle" >-1.0</text>
<text x="270.40" y="290.80" font-size="11" font-weight="bold" fill="#000" stroke="#000" stroke-width="0.1" text-anchor="middle" >0</text>
<text x="297.90" y="290.80" font-size="11" font-weight="bold" fill="#000" stroke="#000" stroke-width="0.1" text-anchor="middle" >1.0</text>
<text x="324.50" y="290.80" font-size="11" font-weight="bold" fill="#000" stroke="#000" stroke-width="0.1" text-anchor="middle" >2.0</text>
<text x="191.40" y="165.60" font-size="10.3" font-weight="bold" fill="#000" stroke="#000" stroke-width="0.25" text-anchor="end" >1</text>
<text x="191.40" y="270.90" font-size="10.3" font-weight="bold" fill="#000" stroke="#000" stroke-width="0.25" text-anchor="end" >0</text>
<text x="198.80" y="157.20" font-size="10" font-weight="bold" fill="#000" stroke="#000" stroke-width="0.25" text-anchor="start" >c</text>
<text x="205.10" y="168.90" font-size="9.9" font-weight="bold" fill="#000" stroke="#000" stroke-width="0.25" text-anchor="start" textLength="31.9" lengthAdjust="spacingAndGlyphs">19 Nov</text>
<text x="205.10" y="177.80" font-size="9.9" font-weight="bold" fill="#000" stroke="#000" stroke-width="0.25" text-anchor="start" textLength="38.0" lengthAdjust="spacingAndGlyphs">H2O_3C</text>
<rect x="23.9" y="297.5" width="154.90" height="131.80" fill="none" stroke="#2a2a2a" stroke-width="1.4"/>
<line x1="26.12" y1="297.50" x2="26.12" y2="299.50" stroke="#2a2a2a" stroke-width="1.0" />
<line x1="26.12" y1="429.30" x2="26.12" y2="427.30" stroke="#2a2a2a" stroke-width="1.0" />
<line x1="29.00" y1="297.50" x2="29.00" y2="299.70" stroke="#2a2a2a" stroke-width="1.0" />
<line x1="29.00" y1="429.30" x2="29.00" y2="427.10" stroke="#2a2a2a" stroke-width="1.0" />
<line x1="31.88" y1="297.50" x2="31.88" y2="299.50" stroke="#2a2a2a" stroke-width="1.0" />
<line x1="31.88" y1="429.30" x2="31.88" y2="427.30" stroke="#2a2a2a" stroke-width="1.0" />
<line x1="34.76" y1="297.50" x2="34.76" y2="299.50" stroke="#2a2a2a" stroke-width="1.0" />
<line x1="34.76" y1="429.30" x2="34.76" y2="427.30" stroke="#2a2a2a" stroke-width="1.0" />
<line x1="37.64" y1="297.50" x2="37.64" y2="299.50" stroke="#2a2a2a" stroke-width="1.0" />
<line x1="37.64" y1="429.30" x2="37.64" y2="427.30" stroke="#2a2a2a" stroke-width="1.0" />
<line x1="40.52" y1="297.50" x2="40.52" y2="299.50" stroke="#2a2a2a" stroke-width="1.0" />
<line x1="40.52" y1="429.30" x2="40.52" y2="427.30" stroke="#2a2a2a" stroke-width="1.0" />
<line x1="43.40" y1="297.50" x2="43.40" y2="301.10" stroke="#2a2a2a" stroke-width="1.0" />
<line x1="43.40" y1="429.30" x2="43.40" y2="425.70" stroke="#2a2a2a" stroke-width="1.0" />
<line x1="46.28" y1="297.50" x2="46.28" y2="299.50" stroke="#2a2a2a" stroke-width="1.0" />
<line x1="46.28" y1="429.30" x2="46.28" y2="427.30" stroke="#2a2a2a" stroke-width="1.0" />
<line x1="49.16" y1="297.50" x2="49.16" y2="299.50" stroke="#2a2a2a" stroke-width="1.0" />
<line x1="49.16" y1="429.30" x2="49.16" y2="427.30" stroke="#2a2a2a" stroke-width="1.0" />
<line x1="52.04" y1="297.50" x2="52.04" y2="299.50" stroke="#2a2a2a" stroke-width="1.0" />
<line x1="52.04" y1="429.30" x2="52.04" y2="427.30" stroke="#2a2a2a" stroke-width="1.0" />
<line x1="54.92" y1="297.50" x2="54.92" y2="299.50" stroke="#2a2a2a" stroke-width="1.0" />
<line x1="54.92" y1="429.30" x2="54.92" y2="427.30" stroke="#2a2a2a" stroke-width="1.0" />
<line x1="57.80" y1="297.50" x2="57.80" y2="299.70" stroke="#2a2a2a" stroke-width="1.0" />
<line x1="57.80" y1="429.30" x2="57.80" y2="427.10" stroke="#2a2a2a" stroke-width="1.0" />
<line x1="60.68" y1="297.50" x2="60.68" y2="299.50" stroke="#2a2a2a" stroke-width="1.0" />
<line x1="60.68" y1="429.30" x2="60.68" y2="427.30" stroke="#2a2a2a" stroke-width="1.0" />
<line x1="63.56" y1="297.50" x2="63.56" y2="299.50" stroke="#2a2a2a" stroke-width="1.0" />
<line x1="63.56" y1="429.30" x2="63.56" y2="427.30" stroke="#2a2a2a" stroke-width="1.0" />
<line x1="66.44" y1="297.50" x2="66.44" y2="299.50" stroke="#2a2a2a" stroke-width="1.0" />
<line x1="66.44" y1="429.30" x2="66.44" y2="427.30" stroke="#2a2a2a" stroke-width="1.0" />
<line x1="69.32" y1="297.50" x2="69.32" y2="299.50" stroke="#2a2a2a" stroke-width="1.0" />
<line x1="69.32" y1="429.30" x2="69.32" y2="427.30" stroke="#2a2a2a" stroke-width="1.0" />
<line x1="72.20" y1="297.50" x2="72.20" y2="301.10" stroke="#2a2a2a" stroke-width="1.0" />
<line x1="72.20" y1="429.30" x2="72.20" y2="425.70" stroke="#2a2a2a" stroke-width="1.0" />
<line x1="75.08" y1="297.50" x2="75.08" y2="299.50" stroke="#2a2a2a" stroke-width="1.0" />
<line x1="75.08" y1="429.30" x2="75.08" y2="427.30" stroke="#2a2a2a" stroke-width="1.0" />
<line x1="77.96" y1="297.50" x2="77.96" y2="299.50" stroke="#2a2a2a" stroke-width="1.0" />
<line x1="77.96" y1="429.30" x2="77.96" y2="427.30" stroke="#2a2a2a" stroke-width="1.0" />
<line x1="80.84" y1="297.50" x2="80.84" y2="299.50" stroke="#2a2a2a" stroke-width="1.0" />
<line x1="80.84" y1="429.30" x2="80.84" y2="427.30" stroke="#2a2a2a" stroke-width="1.0" />
<line x1="83.72" y1="297.50" x2="83.72" y2="299.50" stroke="#2a2a2a" stroke-width="1.0" />
<line x1="83.72" y1="429.30" x2="83.72" y2="427.30" stroke="#2a2a2a" stroke-width="1.0" />
<line x1="86.60" y1="297.50" x2="86.60" y2="299.70" stroke="#2a2a2a" stroke-width="1.0" />
<line x1="86.60" y1="429.30" x2="86.60" y2="427.10" stroke="#2a2a2a" stroke-width="1.0" />
<line x1="89.48" y1="297.50" x2="89.48" y2="299.50" stroke="#2a2a2a" stroke-width="1.0" />
<line x1="89.48" y1="429.30" x2="89.48" y2="427.30" stroke="#2a2a2a" stroke-width="1.0" />
<line x1="92.36" y1="297.50" x2="92.36" y2="299.50" stroke="#2a2a2a" stroke-width="1.0" />
<line x1="92.36" y1="429.30" x2="92.36" y2="427.30" stroke="#2a2a2a" stroke-width="1.0" />
<line x1="95.24" y1="297.50" x2="95.24" y2="299.50" stroke="#2a2a2a" stroke-width="1.0" />
<line x1="95.24" y1="429.30" x2="95.24" y2="427.30" stroke="#2a2a2a" stroke-width="1.0" />
<line x1="98.12" y1="297.50" x2="98.12" y2="299.50" stroke="#2a2a2a" stroke-width="1.0" />
<line x1="98.12" y1="429.30" x2="98.12" y2="427.30" stroke="#2a2a2a" stroke-width="1.0" />
<line x1="101.00" y1="297.50" x2="101.00" y2="301.10" stroke="#2a2a2a" stroke-width="1.0" />
<line x1="101.00" y1="429.30" x2="101.00" y2="425.70" stroke="#2a2a2a" stroke-width="1.0" />
<line x1="103.88" y1="297.50" x2="103.88" y2="299.50" stroke="#2a2a2a" stroke-width="1.0" />
<line x1="103.88" y1="429.30" x2="103.88" y2="427.30" stroke="#2a2a2a" stroke-width="1.0" />
<line x1="106.76" y1="297.50" x2="106.76" y2="299.50" stroke="#2a2a2a" stroke-width="1.0" />
<line x1="106.76" y1="429.30" x2="106.76" y2="427.30" stroke="#2a2a2a" stroke-width="1.0" />
<line x1="109.64" y1="297.50" x2="109.64" y2="299.50" stroke="#2a2a2a" stroke-width="1.0" />
<line x1="109.64" y1="429.30" x2="109.64" y2="427.30" stroke="#2a2a2a" stroke-width="1.0" />
<line x1="112.52" y1="297.50" x2="112.52" y2="299.50" stroke="#2a2a2a" stroke-width="1.0" />
<line x1="112.52" y1="429.30" x2="112.52" y2="427.30" stroke="#2a2a2a" stroke-width="1.0" />
<line x1="115.40" y1="297.50" x2="115.40" y2="299.70" stroke="#2a2a2a" stroke-width="1.0" />
<line x1="115.40" y1="429.30" x2="115.40" y2="427.10" stroke="#2a2a2a" stroke-width="1.0" />
<line x1="118.28" y1="297.50" x2="118.28" y2="299.50" stroke="#2a2a2a" stroke-width="1.0" />
<line x1="118.28" y1="429.30" x2="118.28" y2="427.30" stroke="#2a2a2a" stroke-width="1.0" />
<line x1="121.16" y1="297.50" x2="121.16" y2="299.50" stroke="#2a2a2a" stroke-width="1.0" />
<line x1="121.16" y1="429.30" x2="121.16" y2="427.30" stroke="#2a2a2a" stroke-width="1.0" />
<line x1="124.04" y1="297.50" x2="124.04" y2="299.50" stroke="#2a2a2a" stroke-width="1.0" />
<line x1="124.04" y1="429.30" x2="124.04" y2="427.30" stroke="#2a2a2a" stroke-width="1.0" />
<line x1="126.92" y1="297.50" x2="126.92" y2="299.50" stroke="#2a2a2a" stroke-width="1.0" />
<line x1="126.92" y1="429.30" x2="126.92" y2="427.30" stroke="#2a2a2a" stroke-width="1.0" />
<line x1="129.80" y1="297.50" x2="129.80" y2="301.10" stroke="#2a2a2a" stroke-width="1.0" />
<line x1="129.80" y1="429.30" x2="129.80" y2="425.70" stroke="#2a2a2a" stroke-width="1.0" />
<line x1="132.68" y1="297.50" x2="132.68" y2="299.50" stroke="#2a2a2a" stroke-width="1.0" />
<line x1="132.68" y1="429.30" x2="132.68" y2="427.30" stroke="#2a2a2a" stroke-width="1.0" />
<line x1="135.56" y1="297.50" x2="135.56" y2="299.50" stroke="#2a2a2a" stroke-width="1.0" />
<line x1="135.56" y1="429.30" x2="135.56" y2="427.30" stroke="#2a2a2a" stroke-width="1.0" />
<line x1="138.44" y1="297.50" x2="138.44" y2="299.50" stroke="#2a2a2a" stroke-width="1.0" />
<line x1="138.44" y1="429.30" x2="138.44" y2="427.30" stroke="#2a2a2a" stroke-width="1.0" />
<line x1="141.32" y1="297.50" x2="141.32" y2="299.50" stroke="#2a2a2a" stroke-width="1.0" />
<line x1="141.32" y1="429.30" x2="141.32" y2="427.30" stroke="#2a2a2a" stroke-width="1.0" />
<line x1="144.20" y1="297.50" x2="144.20" y2="299.70" stroke="#2a2a2a" stroke-width="1.0" />
<line x1="144.20" y1="429.30" x2="144.20" y2="427.10" stroke="#2a2a2a" stroke-width="1.0" />
<line x1="147.08" y1="297.50" x2="147.08" y2="299.50" stroke="#2a2a2a" stroke-width="1.0" />
<line x1="147.08" y1="429.30" x2="147.08" y2="427.30" stroke="#2a2a2a" stroke-width="1.0" />
<line x1="149.96" y1="297.50" x2="149.96" y2="299.50" stroke="#2a2a2a" stroke-width="1.0" />
<line x1="149.96" y1="429.30" x2="149.96" y2="427.30" stroke="#2a2a2a" stroke-width="1.0" />
<line x1="152.84" y1="297.50" x2="152.84" y2="299.50" stroke="#2a2a2a" stroke-width="1.0" />
<line x1="152.84" y1="429.30" x2="152.84" y2="427.30" stroke="#2a2a2a" stroke-width="1.0" />
<line x1="155.72" y1="297.50" x2="155.72" y2="299.50" stroke="#2a2a2a" stroke-width="1.0" />
<line x1="155.72" y1="429.30" x2="155.72" y2="427.30" stroke="#2a2a2a" stroke-width="1.0" />
<line x1="158.60" y1="297.50" x2="158.60" y2="301.10" stroke="#2a2a2a" stroke-width="1.0" />
<line x1="158.60" y1="429.30" x2="158.60" y2="425.70" stroke="#2a2a2a" stroke-width="1.0" />
<line x1="161.48" y1="297.50" x2="161.48" y2="299.50" stroke="#2a2a2a" stroke-width="1.0" />
<line x1="161.48" y1="429.30" x2="161.48" y2="427.30" stroke="#2a2a2a" stroke-width="1.0" />
<line x1="164.36" y1="297.50" x2="164.36" y2="299.50" stroke="#2a2a2a" stroke-width="1.0" />
<line x1="164.36" y1="429.30" x2="164.36" y2="427.30" stroke="#2a2a2a" stroke-width="1.0" />
<line x1="167.24" y1="297.50" x2="167.24" y2="299.50" stroke="#2a2a2a" stroke-width="1.0" />
<line x1="167.24" y1="429.30" x2="167.24" y2="427.30" stroke="#2a2a2a" stroke-width="1.0" />
<line x1="170.12" y1="297.50" x2="170.12" y2="299.50" stroke="#2a2a2a" stroke-width="1.0" />
<line x1="170.12" y1="429.30" x2="170.12" y2="427.30" stroke="#2a2a2a" stroke-width="1.0" />
<line x1="173.00" y1="297.50" x2="173.00" y2="299.70" stroke="#2a2a2a" stroke-width="1.0" />
<line x1="173.00" y1="429.30" x2="173.00" y2="427.10" stroke="#2a2a2a" stroke-width="1.0" />
<line x1="175.88" y1="297.50" x2="175.88" y2="299.50" stroke="#2a2a2a" stroke-width="1.0" />
<line x1="175.88" y1="429.30" x2="175.88" y2="427.30" stroke="#2a2a2a" stroke-width="1.0" />
<line x1="23.90" y1="310.00" x2="27.90" y2="310.00" stroke="#2a2a2a" stroke-width="1.2" />
<line x1="178.80" y1="310.00" x2="174.80" y2="310.00" stroke="#2a2a2a" stroke-width="1.2" />
<line x1="23.90" y1="336.60" x2="27.90" y2="336.60" stroke="#2a2a2a" stroke-width="1.2" />
<line x1="178.80" y1="336.60" x2="174.80" y2="336.60" stroke="#2a2a2a" stroke-width="1.2" />
<line x1="23.90" y1="365.50" x2="27.90" y2="365.50" stroke="#2a2a2a" stroke-width="1.2" />
<line x1="178.80" y1="365.50" x2="174.80" y2="365.50" stroke="#2a2a2a" stroke-width="1.2" />
<line x1="23.90" y1="391.80" x2="27.90" y2="391.80" stroke="#2a2a2a" stroke-width="1.2" />
<line x1="178.80" y1="391.80" x2="174.80" y2="391.80" stroke="#2a2a2a" stroke-width="1.2" />
<text x="43.90" y="440.00" font-size="11" font-weight="bold" fill="#000" stroke="#000" stroke-width="0.1" text-anchor="middle" >-2.0</text>
<text x="71.00" y="440.00" font-size="11" font-weight="bold" fill="#000" stroke="#000" stroke-width="0.1" text-anchor="middle" >-1.0</text>
<text x="100.80" y="440.00" font-size="11" font-weight="bold" fill="#000" stroke="#000" stroke-width="0.1" text-anchor="middle" >0</text>
<text x="131.00" y="440.00" font-size="11" font-weight="bold" fill="#000" stroke="#000" stroke-width="0.1" text-anchor="middle" >1.0</text>
<text x="158.60" y="440.00" font-size="11" font-weight="bold" fill="#000" stroke="#000" stroke-width="0.1" text-anchor="middle" >2.0</text>
<text x="21.10" y="313.60" font-size="10.3" font-weight="bold" fill="#000" stroke="#000" stroke-width="0.25" text-anchor="end" >1</text>
<text x="21.10" y="419.00" font-size="10.3" font-weight="bold" fill="#000" stroke="#000" stroke-width="0.25" text-anchor="end" >0</text>
<text x="27.70" y="306.20" font-size="10" font-weight="bold" fill="#000" stroke="#000" stroke-width="0.25" text-anchor="start" >d</text>
<text x="35.90" y="315.10" font-size="9.9" font-weight="bold" fill="#000" stroke="#000" stroke-width="0.25" text-anchor="start" textLength="31.2" lengthAdjust="spacingAndGlyphs">22 Nov</text>
<text x="35.90" y="324.60" font-size="9.9" font-weight="bold" fill="#000" stroke="#000" stroke-width="0.25" text-anchor="start" textLength="31.2" lengthAdjust="spacingAndGlyphs">HCN_A</text>
<rect x="193.6" y="298.2" width="154.70" height="131.50" fill="none" stroke="#2a2a2a" stroke-width="1.4"/>
<line x1="196.90" y1="298.20" x2="196.90" y2="300.20" stroke="#2a2a2a" stroke-width="1.0" />
<line x1="196.90" y1="429.70" x2="196.90" y2="427.70" stroke="#2a2a2a" stroke-width="1.0" />
<line x1="199.75" y1="298.20" x2="199.75" y2="300.40" stroke="#2a2a2a" stroke-width="1.0" />
<line x1="199.75" y1="429.70" x2="199.75" y2="427.50" stroke="#2a2a2a" stroke-width="1.0" />
<line x1="202.60" y1="298.20" x2="202.60" y2="300.20" stroke="#2a2a2a" stroke-width="1.0" />
<line x1="202.60" y1="429.70" x2="202.60" y2="427.70" stroke="#2a2a2a" stroke-width="1.0" />
<line x1="205.45" y1="298.20" x2="205.45" y2="300.20" stroke="#2a2a2a" stroke-width="1.0" />
<line x1="205.45" y1="429.70" x2="205.45" y2="427.70" stroke="#2a2a2a" stroke-width="1.0" />
<line x1="208.30" y1="298.20" x2="208.30" y2="300.20" stroke="#2a2a2a" stroke-width="1.0" />
<line x1="208.30" y1="429.70" x2="208.30" y2="427.70" stroke="#2a2a2a" stroke-width="1.0" />
<line x1="211.15" y1="298.20" x2="211.15" y2="300.20" stroke="#2a2a2a" stroke-width="1.0" />
<line x1="211.15" y1="429.70" x2="211.15" y2="427.70" stroke="#2a2a2a" stroke-width="1.0" />
<line x1="214.00" y1="298.20" x2="214.00" y2="301.80" stroke="#2a2a2a" stroke-width="1.0" />
<line x1="214.00" y1="429.70" x2="214.00" y2="426.10" stroke="#2a2a2a" stroke-width="1.0" />
<line x1="216.85" y1="298.20" x2="216.85" y2="300.20" stroke="#2a2a2a" stroke-width="1.0" />
<line x1="216.85" y1="429.70" x2="216.85" y2="427.70" stroke="#2a2a2a" stroke-width="1.0" />
<line x1="219.70" y1="298.20" x2="219.70" y2="300.20" stroke="#2a2a2a" stroke-width="1.0" />
<line x1="219.70" y1="429.70" x2="219.70" y2="427.70" stroke="#2a2a2a" stroke-width="1.0" />
<line x1="222.55" y1="298.20" x2="222.55" y2="300.20" stroke="#2a2a2a" stroke-width="1.0" />
<line x1="222.55" y1="429.70" x2="222.55" y2="427.70" stroke="#2a2a2a" stroke-width="1.0" />
<line x1="225.40" y1="298.20" x2="225.40" y2="300.20" stroke="#2a2a2a" stroke-width="1.0" />
<line x1="225.40" y1="429.70" x2="225.40" y2="427.70" stroke="#2a2a2a" stroke-width="1.0" />
<line x1="228.25" y1="298.20" x2="228.25" y2="300.40" stroke="#2a2a2a" stroke-width="1.0" />
<line x1="228.25" y1="429.70" x2="228.25" y2="427.50" stroke="#2a2a2a" stroke-width="1.0" />
<line x1="231.10" y1="298.20" x2="231.10" y2="300.20" stroke="#2a2a2a" stroke-width="1.0" />
<line x1="231.10" y1="429.70" x2="231.10" y2="427.70" stroke="#2a2a2a" stroke-width="1.0" />
<line x1="233.95" y1="298.20" x2="233.95" y2="300.20" stroke="#2a2a2a" stroke-width="1.0" />
<line x1="233.95" y1="429.70" x2="233.95" y2="427.70" stroke="#2a2a2a" stroke-width="1.0" />
<line x1="236.80" y1="298.20" x2="236.80" y2="300.20" stroke="#2a2a2a" stroke-width="1.0" />
<line x1="236.80" y1="429.70" x2="236.80" y2="427.70" stroke="#2a2a2a" stroke-width="1.0" />
<line x1="239.65" y1="298.20" x2="239.65" y2="300.20" stroke="#2a2a2a" stroke-width="1.0" />
<line x1="239.65" y1="429.70" x2="239.65" y2="427.70" stroke="#2a2a2a" stroke-width="1.0" />
<line x1="242.50" y1="298.20" x2="242.50" y2="301.80" stroke="#2a2a2a" stroke-width="1.0" />
<line x1="242.50" y1="429.70" x2="242.50" y2="426.10" stroke="#2a2a2a" stroke-width="1.0" />
<line x1="245.35" y1="298.20" x2="245.35" y2="300.20" stroke="#2a2a2a" stroke-width="1.0" />
<line x1="245.35" y1="429.70" x2="245.35" y2="427.70" stroke="#2a2a2a" stroke-width="1.0" />
<line x1="248.20" y1="298.20" x2="248.20" y2="300.20" stroke="#2a2a2a" stroke-width="1.0" />
<line x1="248.20" y1="429.70" x2="248.20" y2="427.70" stroke="#2a2a2a" stroke-width="1.0" />
<line x1="251.05" y1="298.20" x2="251.05" y2="300.20" stroke="#2a2a2a" stroke-width="1.0" />
<line x1="251.05" y1="429.70" x2="251.05" y2="427.70" stroke="#2a2a2a" stroke-width="1.0" />
<line x1="253.90" y1="298.20" x2="253.90" y2="300.20" stroke="#2a2a2a" stroke-width="1.0" />
<line x1="253.90" y1="429.70" x2="253.90" y2="427.70" stroke="#2a2a2a" stroke-width="1.0" />
<line x1="256.75" y1="298.20" x2="256.75" y2="300.40" stroke="#2a2a2a" stroke-width="1.0" />
<line x1="256.75" y1="429.70" x2="256.75" y2="427.50" stroke="#2a2a2a" stroke-width="1.0" />
<line x1="259.60" y1="298.20" x2="259.60" y2="300.20" stroke="#2a2a2a" stroke-width="1.0" />
<line x1="259.60" y1="429.70" x2="259.60" y2="427.70" stroke="#2a2a2a" stroke-width="1.0" />
<line x1="262.45" y1="298.20" x2="262.45" y2="300.20" stroke="#2a2a2a" stroke-width="1.0" />
<line x1="262.45" y1="429.70" x2="262.45" y2="427.70" stroke="#2a2a2a" stroke-width="1.0" />
<line x1="265.30" y1="298.20" x2="265.30" y2="300.20" stroke="#2a2a2a" stroke-width="1.0" />
<line x1="265.30" y1="429.70" x2="265.30" y2="427.70" stroke="#2a2a2a" stroke-width="1.0" />
<line x1="268.15" y1="298.20" x2="268.15" y2="300.20" stroke="#2a2a2a" stroke-width="1.0" />
<line x1="268.15" y1="429.70" x2="268.15" y2="427.70" stroke="#2a2a2a" stroke-width="1.0" />
<line x1="271.00" y1="298.20" x2="271.00" y2="301.80" stroke="#2a2a2a" stroke-width="1.0" />
<line x1="271.00" y1="429.70" x2="271.00" y2="426.10" stroke="#2a2a2a" stroke-width="1.0" />
<line x1="273.85" y1="298.20" x2="273.85" y2="300.20" stroke="#2a2a2a" stroke-width="1.0" />
<line x1="273.85" y1="429.70" x2="273.85" y2="427.70" stroke="#2a2a2a" stroke-width="1.0" />
<line x1="276.70" y1="298.20" x2="276.70" y2="300.20" stroke="#2a2a2a" stroke-width="1.0" />
<line x1="276.70" y1="429.70" x2="276.70" y2="427.70" stroke="#2a2a2a" stroke-width="1.0" />
<line x1="279.55" y1="298.20" x2="279.55" y2="300.20" stroke="#2a2a2a" stroke-width="1.0" />
<line x1="279.55" y1="429.70" x2="279.55" y2="427.70" stroke="#2a2a2a" stroke-width="1.0" />
<line x1="282.40" y1="298.20" x2="282.40" y2="300.20" stroke="#2a2a2a" stroke-width="1.0" />
<line x1="282.40" y1="429.70" x2="282.40" y2="427.70" stroke="#2a2a2a" stroke-width="1.0" />
<line x1="285.25" y1="298.20" x2="285.25" y2="300.40" stroke="#2a2a2a" stroke-width="1.0" />
<line x1="285.25" y1="429.70" x2="285.25" y2="427.50" stroke="#2a2a2a" stroke-width="1.0" />
<line x1="288.10" y1="298.20" x2="288.10" y2="300.20" stroke="#2a2a2a" stroke-width="1.0" />
<line x1="288.10" y1="429.70" x2="288.10" y2="427.70" stroke="#2a2a2a" stroke-width="1.0" />
<line x1="290.95" y1="298.20" x2="290.95" y2="300.20" stroke="#2a2a2a" stroke-width="1.0" />
<line x1="290.95" y1="429.70" x2="290.95" y2="427.70" stroke="#2a2a2a" stroke-width="1.0" />
<line x1="293.80" y1="298.20" x2="293.80" y2="300.20" stroke="#2a2a2a" stroke-width="1.0" />
<line x1="293.80" y1="429.70" x2="293.80" y2="427.70" stroke="#2a2a2a" stroke-width="1.0" />
<line x1="296.65" y1="298.20" x2="296.65" y2="300.20" stroke="#2a2a2a" stroke-width="1.0" />
<line x1="296.65" y1="429.70" x2="296.65" y2="427.70" stroke="#2a2a2a" stroke-width="1.0" />
<line x1="299.50" y1="298.20" x2="299.50" y2="301.80" stroke="#2a2a2a" stroke-width="1.0" />
<line x1="299.50" y1="429.70" x2="299.50" y2="426.10" stroke="#2a2a2a" stroke-width="1.0" />
<line x1="302.35" y1="298.20" x2="302.35" y2="300.20" stroke="#2a2a2a" stroke-width="1.0" />
<line x1="302.35" y1="429.70" x2="302.35" y2="427.70" stroke="#2a2a2a" stroke-width="1.0" />
<line x1="305.20" y1="298.20" x2="305.20" y2="300.20" stroke="#2a2a2a" stroke-width="1.0" />
<line x1="305.20" y1="429.70" x2="305.20" y2="427.70" stroke="#2a2a2a" stroke-width="1.0" />
<line x1="308.05" y1="298.20" x2="308.05" y2="300.20" stroke="#2a2a2a" stroke-width="1.0" />
<line x1="308.05" y1="429.70" x2="308.05" y2="427.70" stroke="#2a2a2a" stroke-width="1.0" />
<line x1="310.90" y1="298.20" x2="310.90" y2="300.20" stroke="#2a2a2a" stroke-width="1.0" />
<line x1="310.90" y1="429.70" x2="310.90" y2="427.70" stroke="#2a2a2a" stroke-width="1.0" />
<line x1="313.75" y1="298.20" x2="313.75" y2="300.40" stroke="#2a2a2a" stroke-width="1.0" />
<line x1="313.75" y1="429.70" x2="313.75" y2="427.50" stroke="#2a2a2a" stroke-width="1.0" />
<line x1="316.60" y1="298.20" x2="316.60" y2="300.20" stroke="#2a2a2a" stroke-width="1.0" />
<line x1="316.60" y1="429.70" x2="316.60" y2="427.70" stroke="#2a2a2a" stroke-width="1.0" />
<line x1="319.45" y1="298.20" x2="319.45" y2="300.20" stroke="#2a2a2a" stroke-width="1.0" />
<line x1="319.45" y1="429.70" x2="319.45" y2="427.70" stroke="#2a2a2a" stroke-width="1.0" />
<line x1="322.30" y1="298.20" x2="322.30" y2="300.20" stroke="#2a2a2a" stroke-width="1.0" />
<line x1="322.30" y1="429.70" x2="322.30" y2="427.70" stroke="#2a2a2a" stroke-width="1.0" />
<line x1="325.15" y1="298.20" x2="325.15" y2="300.20" stroke="#2a2a2a" stroke-width="1.0" />
<line x1="325.15" y1="429.70" x2="325.15" y2="427.70" stroke="#2a2a2a" stroke-width="1.0" />
<line x1="328.00" y1="298.20" x2="328.00" y2="301.80" stroke="#2a2a2a" stroke-width="1.0" />
<line x1="328.00" y1="429.70" x2="328.00" y2="426.10" stroke="#2a2a2a" stroke-width="1.0" />
<line x1="330.85" y1="298.20" x2="330.85" y2="300.20" stroke="#2a2a2a" stroke-width="1.0" />
<line x1="330.85" y1="429.70" x2="330.85" y2="427.70" stroke="#2a2a2a" stroke-width="1.0" />
<line x1="333.70" y1="298.20" x2="333.70" y2="300.20" stroke="#2a2a2a" stroke-width="1.0" />
<line x1="333.70" y1="429.70" x2="333.70" y2="427.70" stroke="#2a2a2a" stroke-width="1.0" />
<line x1="336.55" y1="298.20" x2="336.55" y2="300.20" stroke="#2a2a2a" stroke-width="1.0" />
<line x1="336.55" y1="429.70" x2="336.55" y2="427.70" stroke="#2a2a2a" stroke-width="1.0" />
<line x1="339.40" y1="298.20" x2="339.40" y2="300.20" stroke="#2a2a2a" stroke-width="1.0" />
<line x1="339.40" y1="429.70" x2="339.40" y2="427.70" stroke="#2a2a2a" stroke-width="1.0" />
<line x1="342.25" y1="298.20" x2="342.25" y2="300.40" stroke="#2a2a2a" stroke-width="1.0" />
<line x1="342.25" y1="429.70" x2="342.25" y2="427.50" stroke="#2a2a2a" stroke-width="1.0" />
<line x1="345.10" y1="298.20" x2="345.10" y2="300.20" stroke="#2a2a2a" stroke-width="1.0" />
<line x1="345.10" y1="429.70" x2="345.10" y2="427.70" stroke="#2a2a2a" stroke-width="1.0" />
<line x1="193.60" y1="310.80" x2="197.60" y2="310.80" stroke="#2a2a2a" stroke-width="1.2" />
<line x1="348.30" y1="310.80" x2="344.30" y2="310.80" stroke="#2a2a2a" stroke-width="1.2" />
<line x1="193.60" y1="337.60" x2="197.60" y2="337.60" stroke="#2a2a2a" stroke-width="1.2" />
<line x1="348.30" y1="337.60" x2="344.30" y2="337.60" stroke="#2a2a2a" stroke-width="1.2" />
<line x1="193.60" y1="365.50" x2="197.60" y2="365.50" stroke="#2a2a2a" stroke-width="1.2" />
<line x1="348.30" y1="365.50" x2="344.30" y2="365.50" stroke="#2a2a2a" stroke-width="1.2" />
<line x1="193.60" y1="391.80" x2="197.60" y2="391.80" stroke="#2a2a2a" stroke-width="1.2" />
<line x1="348.30" y1="391.80" x2="344.30" y2="391.80" stroke="#2a2a2a" stroke-width="1.2" />
<text x="212.20" y="440.30" font-size="11" font-weight="bold" fill="#000" stroke="#000" stroke-width="0.1" text-anchor="middle" >-2.0</text>
<text x="242.90" y="440.30" font-size="11" font-weight="bold" fill="#000" stroke="#000" stroke-width="0.1" text-anchor="middle" >-1.0</text>
<text x="271.10" y="440.30" font-size="11" font-weight="bold" fill="#000" stroke="#000" stroke-width="0.1" text-anchor="middle" >0</text>
<text x="300.70" y="440.30" font-size="11" font-weight="bold" fill="#000" stroke="#000" stroke-width="0.1" text-anchor="middle" >1.0</text>
<text x="328.60" y="440.30" font-size="11" font-weight="bold" fill="#000" stroke="#000" stroke-width="0.1" text-anchor="middle" >2.0</text>
<text x="191.80" y="315.00" font-size="10.3" font-weight="bold" fill="#000" stroke="#000" stroke-width="0.25" text-anchor="end" >1</text>
<text x="191.80" y="420.00" font-size="10.3" font-weight="bold" fill="#000" stroke="#000" stroke-width="0.25" text-anchor="end" >0</text>
<text x="198.00" y="306.60" font-size="10" font-weight="bold" fill="#000" stroke="#000" stroke-width="0.25" text-anchor="start" >e</text>
<text x="203.70" y="316.00" font-size="9.9" font-weight="bold" fill="#000" stroke="#000" stroke-width="0.25" text-anchor="start" textLength="32.4" lengthAdjust="spacingAndGlyphs">22 Nov</text>
<text x="203.70" y="325.40" font-size="9.9" font-weight="bold" fill="#000" stroke="#000" stroke-width="0.25" text-anchor="start" textLength="38.0" lengthAdjust="spacingAndGlyphs">H2O_3C</text>
<text x="0" y="0" font-size="14.7" font-weight="bold" stroke="#000" stroke-width="0.2" transform="translate(12.8,282.9) rotate(-90)">Normalized Counts</text>
<text x="86.40" y="455.80" font-size="14.05" font-weight="bold" fill="#000" stroke="#000" stroke-width="0.25" text-anchor="start" >Projected Distance ρ (10<tspan font-size="8.6" dy="-4.6">3</tspan><tspan dy="4.6"> km)</tspan></text>
<rect x="49.3" y="63.5" width="105" height="8" fill="none" stroke="#555" stroke-width="1.2"/>
<line x1="99.70" y1="40.30" x2="99.70" y2="94.00" stroke="#555" stroke-width="1.4" />
<line x1="93.00" y1="67.40" x2="161.00" y2="67.40" stroke="#333" stroke-width="1.1" />
<line x1="99.70" y1="67.40" x2="149.60" y2="87.40" stroke="#222" stroke-width="1.1" />
<line x1="149.60" y1="87.40" x2="137.90" y2="77.40" stroke="#222" stroke-width="1.0" />
<line x1="149.60" y1="87.40" x2="136.40" y2="86.40" stroke="#222" stroke-width="1.0" />
<text x="92.90" y="39.80" font-size="19.6" font-weight="normal" fill="#000"  text-anchor="start" >N</text>
<text x="160.90" y="74.10" font-size="18.9" font-weight="normal" fill="#000"  text-anchor="start" textLength="10.6" lengthAdjust="spacingAndGlyphs">E</text>
<text x="22.40" y="71.90" font-size="14.4" font-weight="normal" fill="#000"  text-anchor="start" >Slit</text>
<text x="155.40" y="90.60" font-size="14.4" font-weight="normal" fill="#000"  text-anchor="start" >Sun</text>
<line x1="193.2" y1="120.3" x2="347.6" y2="120.3" stroke="#333" stroke-width="1.4" stroke-dasharray="6,2.4,1.4,2.4"/>
<path d="M192.2,120.3 L209.1,119.3 L220.0,117.0 L228.6,114.1 L236.0,108.0 L241.4,100.2 L249.8,85.1 L255.0,66.0 L259.0,45.0 L262.0,28.0 L264.5,16.0 L266.5,12.8 L269.9,13.4 L273.0,20.0 L276.5,32.0 L279.6,45.4 L283.0,60.0 L287.0,75.0 L292.0,92.0 L298.0,106.0 L306.0,113.0 L318.0,117.5 L347.6,119.8" fill="none" stroke="#000" stroke-width="1.35" stroke-dasharray="0.01,1.85" stroke-linecap="round" stroke-linejoin="round"/>
<path d="M192.2,122.1H194.3V110.7H197.1V113.0H200.0V117.0H203.4V117.0H206.9V114.0H210.9V109.0H213.7V108.0H217.7V115.9H220.0V123.9H222.9V127.9H229.1V115.3H232.0V100.0H234.7V105.2H238.9V101.0H243.1V88.5H248.9V69.2H253.1V65.9H255.0V51.1H257.3V38.6H260.1V24.0H263.3V15.0H267.6V9.4H272.1V19.1H279.0V45.4H281.5V60.0H283.8V75.0H286.8V80.0H290.0V89.0H293.7V90.2H299.0V89.5H302.8V98.6H307.4V108.2H312.0V112.0H318.2V118.2H323.0V116.0H328.1V120.7H334.8V113.2H339.0V125.6H343.0V121.5H347.6" fill="none" stroke="#1e78be" stroke-width="1.7" stroke-linejoin="miter" stroke-linecap="butt"/>
<path d="M192.2,130.7H197.1V129.0H200.0V73.8H203.4V132.0H206.3V121.6H208.6V123.9H213.1V87.5H221.0V111.7H225.2V54.8H230.7V130.0H233.2V77.0H235.8V130.0H238.3V72.0H240.4V60.7H244.8V67.2H247.8V59.6H251.3V98.7H255.7V69.0H257.3V46.6H260.7V9.4H264.1V25.4H267.0V41.0H274.1V71.1H278.7V83.3H283.2V43.7H286.3V71.1H291.6V69.6H296.2V110.0H299.1V131.0H302.4V102.4H306.6V135.6H309.9V81.9H313.5V141.4H317.4V99.1H320.7V104.9H324.8V116.5H328.1V102.4H330.6V116.5H334.8V131.0H337.0V120.0H347.6" fill="none" stroke="#000" stroke-width="1.9" stroke-linejoin="miter" stroke-linecap="butt"/>
<path d="M192.2,100.5 L208.0,93.0 L224.7,83.7 L235.0,75.0 L242.0,66.0 L247.0,54.0 L251.0,42.0 L255.0,31.0 L259.6,20.3 L262.5,13.5 L264.5,10.8 L266.5,10.5 L268.5,12.5 L271.0,18.5 L274.0,28.0 L276.7,37.4 L279.6,47.7 L282.3,62.0 L286.0,75.0 L290.0,85.0 L295.2,98.0 L299.8,105.0 L306.6,111.0 L313.0,114.5 L319.9,117.0 L330.0,118.7 L347.6,119.6" fill="none" stroke="#000" stroke-width="1.8" stroke-dasharray="5,3" stroke-linejoin="round"/>
<rect x="301.5" y="8.8" width="39.20" height="34.20" fill="#fff" stroke="#111" stroke-width="1.2"/>
<line x1="304.60" y1="14.30" x2="317.40" y2="14.30" stroke="#000" stroke-width="1.8" />
<text x="320.50" y="16.70" font-size="6.7" font-weight="normal" fill="#000" stroke="#000" stroke-width="0.35" text-anchor="start" >OH*</text>
<line x1="304.60" y1="21.90" x2="317.40" y2="21.90" stroke="#1e78be" stroke-width="1.8" />
<text x="320.50" y="24.30" font-size="6.7" font-weight="normal" fill="#1e78be" stroke="#1e78be" stroke-width="0.35" text-anchor="start" >H<tspan font-size="4.9" dy="2.2">2</tspan><tspan dy="-2.2">CO</tspan></text>
<line x1="304.60" y1="29.50" x2="310.23" y2="29.50" stroke="#000" stroke-width="1.8" />
<line x1="313.05" y1="29.50" x2="317.40" y2="29.50" stroke="#000" stroke-width="1.8" />
<text x="320.50" y="31.90" font-size="6.7" font-weight="normal" fill="#000" stroke="#000" stroke-width="0.35" text-anchor="start" >Cont</text>
<line x1="304.6" y1="37.1" x2="317.4" y2="37.1" stroke="#000" stroke-width="1.3" stroke-dasharray="0.01,1.5" stroke-linecap="round"/>
<text x="320.50" y="39.50" font-size="6.7" font-weight="normal" fill="#555" stroke="#555" stroke-width="0.35" text-anchor="start" >PSF</text>
<line x1="23.7" y1="268.6" x2="177.6" y2="268.6" stroke="#333" stroke-width="1.4" stroke-dasharray="6,2.4,1.4,2.4"/>
<path d="M40.0,268.3 L45.8,266.5 L51.7,264.8 L60.0,261.5 L67.0,257.5 L71.7,250.0 L74.0,243.7 L77.0,236.0 L80.3,229.0 L84.0,214.0 L87.0,200.0 L89.6,188.0 L93.1,175.4 L96.0,166.0 L98.5,162.0 L100.5,163.0 L103.0,172.0 L106.0,186.0 L110.0,205.0 L114.0,224.0 L119.0,240.0 L125.0,251.0 L132.0,258.0 L142.0,263.0 L155.0,266.5 L177.6,268.3" fill="none" stroke="#000" stroke-width="1.35" stroke-dasharray="0.01,1.85" stroke-linecap="round" stroke-linejoin="round"/>
<path d="M22.7,262.0H26.3V256.0H30.2V262.5H34.0V257.0H39.4V261.4H43.7V254.3H48.1V248.4H51.9V246.8H57.0V243.6H61.3V236.5H65.1V233.8H68.9V231.6H71.1V221.3H74.3V215.3H77.6V216.0H81.0V212.0H84.4V207.4H87.4V186.0H91.5V185.7H95.5V162.9H98.5V159.9H102.2V166.5H105.9V170.4H109.1V179.0H113.0V195.0H116.7V204.7H119.5V233.0H124.3V236.8H129.9V240.6H134.6V242.5H138.4V247.2H142.2V252.8H146.0V268.9H150.7V251.0H155.4V262.0H159.2V262.0H163.0V256.6H168.6V264.2H177.6" fill="none" stroke="#1fb04a" stroke-width="2.2" stroke-linejoin="miter" stroke-linecap="butt"/>
<path d="M22.7,271.7H29.6V257.6H32.9V254.3H36.1V252.2H39.4V246.5H43.5V244.2H49.3V249.6H53.2V246.3H57.0V240.3H61.3V233.8H65.1V228.9H67.8V236.5H71.1V230.5H74.3V220.8H77.6V209.3H80.5V195.3H84.4V184.2H88.1V172.5H91.1V167.3H94.1V159.1H97.8V157.4H102.2V169.1H105.2V175.6H113.0V195.2H116.3V208.5H119.5V217.0H122.4V222.6H126.2V229.2H129.9V244.3H134.6V239.6H144.1V261.3H150.7V250.0H154.5V254.7H158.2V260.4H162.9V265.0H167.7V270.8H170.5V256.6H174.3V262.0H177.6" fill="none" stroke="#d02aa8" stroke-width="2.2" stroke-linejoin="miter" stroke-linecap="butt"/>
<path d="M22.7,252.9 L39.1,246.9 L47.7,241.7 L56.3,235.7 L64.9,227.1 L70.0,218.0 L74.7,208.9 L80.0,197.0 L86.0,183.0 L91.4,170.3 L93.5,163.5 L96.3,160.0 L99.0,161.0 L102.6,171.0 L104.5,176.0 L108.0,193.0 L111.0,206.0 L113.7,218.0 L118.0,236.0 L123.3,249.0 L130.0,256.0 L140.3,262.0 L155.0,265.5 L177.6,268.0" fill="none" stroke="#000" stroke-width="1.8" stroke-dasharray="5,3" stroke-linejoin="round"/>
<rect x="135.5" y="157.4" width="32.90" height="34.90" fill="#fff" stroke="#111" stroke-width="1.2"/>
<line x1="137.00" y1="163.60" x2="150.10" y2="163.60" stroke="#1fb04a" stroke-width="1.8" />
<text x="151.20" y="166.00" font-size="6.7" font-weight="normal" fill="#1fb04a" stroke="#1fb04a" stroke-width="0.35" text-anchor="start" >HCN</text>
<line x1="137.00" y1="171.30" x2="150.10" y2="171.30" stroke="#d02aa8" stroke-width="1.8" />
<text x="151.20" y="173.70" font-size="6.7" font-weight="normal" fill="#d02aa8" stroke="#d02aa8" stroke-width="0.35" text-anchor="start" >NH<tspan font-size="4.9" dy="2.2">2</tspan><tspan dy="-2.2"></tspan></text>
<line x1="135.50" y1="179.00" x2="140.93" y2="179.00" stroke="#000" stroke-width="1.8" />
<line x1="145.12" y1="179.00" x2="150.10" y2="179.00" stroke="#000" stroke-width="1.8" />
<text x="151.20" y="181.40" font-size="6.7" font-weight="normal" fill="#000" stroke="#000" stroke-width="0.35" text-anchor="start" >Cont</text>
<line x1="137.0" y1="186.7" x2="150.1" y2="186.7" stroke="#000" stroke-width="1.3" stroke-dasharray="0.01,1.5" stroke-linecap="round"/>
<text x="151.20" y="189.10" font-size="6.7" font-weight="normal" fill="#3d1020" stroke="#3d1020" stroke-width="0.35" text-anchor="start" >PSF</text>
<rect x="30" y="265" width="17" height="5" fill="#fff"/>
<text x="30.5" y="269.8" font-size="4.2" fill="#333" font-weight="bold">'V' hike=1'</text>
<line x1="194.2" y1="266.7" x2="347.3" y2="266.7" stroke="#333" stroke-width="1.4" stroke-dasharray="6,2.4,1.4,2.4"/>
<path d="M193.2,266.5 L209.0,264.2 L220.0,261.5 L228.7,258.8 L239.3,251.7 L244.7,242.8 L250.7,230.0 L254.0,215.0 L258.0,195.0 L262.5,178.0 L266.7,163.2 L269.0,160.0 L271.5,162.0 L274.8,173.0 L280.0,193.0 L285.0,214.0 L291.7,232.0 L296.3,245.0 L305.0,256.0 L313.4,261.0 L330.0,264.0 L347.7,265.5" fill="none" stroke="#000" stroke-width="1.35" stroke-dasharray="0.01,1.85" stroke-linecap="round" stroke-linejoin="round"/>
<path d="M193.2,261.5H195.7V257.0H201.0V262.4H205.5V265.0H209.0V257.0H212.6V248.1H216.2V238.3H219.7V233.0H223.3V225.8H229.5V232.1H233.1V233.9H237.6V229.4H241.1V210.7H243.6V193.5H248.0V180.1H250.0V176.0H251.7V173.1H254.6V169.7H258.6V170.0H261.4V183.4H268.3V176.6H271.7V168.6H274.6V168.0H279.1V172.6H283.1V182.9H286.6V197.7H288.8V212.0H292.6V227.1H297.3V224.3H303.0V222.4H307.7V245.1H310.5V260.2H318.0V257.5H327.5V246.0H334.1V259.3H339.8V270.6H342.7V277.2H345.5V269.7H347.7" fill="none" stroke="#f07a22" stroke-width="1.9" stroke-linejoin="miter" stroke-linecap="butt"/>
<path d="M193.2,257.0H195.7V252.6H201.0V258.8H205.5V253.5H208.2V246.3H211.7V249.0H215.0V250.0H219.7V253.5H222.4V247.2H227.8V243.7H230.4V239.2H236.0V237.4H239.5V235.2H243.5V226.0H246.5V213.0H251.3V211.3H254.3V198.9H256.9V181.1H260.3V165.7H262.6V160.6H266.0V159.1H274.6V169.1H278.0V178.3H279.7V186.3H282.0V199.7H285.0V205.9H289.0V221.0H291.6V232.8H295.4V241.3H301.0V243.0H305.8V240.4H310.5V248.9H316.2V250.8H320.9V252.7H325.6V256.0H330.4V261.2H336.0V255.5H341.7V262.0H347.7" fill="none" stroke="#000" stroke-width="2.4" stroke-linejoin="miter" stroke-linecap="butt"/>
<path d="M193.2,246.3 L210.8,238.3 L225.1,228.5 L235.8,216.0 L240.0,208.6 L244.7,200.0 L251.0,187.0 L257.8,173.0 L262.0,165.0 L265.0,160.5 L268.5,159.0 L272.0,162.0 L275.7,169.4 L280.0,185.0 L284.0,206.0 L287.0,220.0 L292.0,235.0 L298.2,246.5 L305.0,253.0 L313.4,257.4 L330.0,263.0 L347.7,265.5" fill="none" stroke="#000" stroke-width="1.8" stroke-dasharray="5,3" stroke-linejoin="round"/>
<rect x="306.3" y="157.6" width="33.90" height="36.20" fill="#fff" stroke="#111" stroke-width="1.2"/>
<line x1="307.70" y1="162.40" x2="320.90" y2="162.40" stroke="#1a0505" stroke-width="1.8" />
<text x="321.50" y="164.80" font-size="6.7" font-weight="normal" fill="#1a0505" stroke="#1a0505" stroke-width="0.35" text-anchor="start" >H<tspan font-size="4.9" dy="2.2">2</tspan><tspan dy="-2.2">O</tspan></text>
<line x1="307.70" y1="171.60" x2="320.90" y2="171.60" stroke="#f07a22" stroke-width="1.8" />
<text x="321.50" y="174.00" font-size="6.7" font-weight="normal" fill="#f07a22" stroke="#f07a22" stroke-width="0.35" text-anchor="start" >NH<tspan font-size="4.9" dy="2.2">3</tspan><tspan dy="-2.2"></tspan></text>
<line x1="306.20" y1="180.90" x2="311.66" y2="180.90" stroke="#000" stroke-width="1.8" />
<line x1="315.88" y1="180.90" x2="320.90" y2="180.90" stroke="#000" stroke-width="1.8" />
<text x="321.50" y="183.30" font-size="6.7" font-weight="normal" fill="#000" stroke="#000" stroke-width="0.35" text-anchor="start" >Cont</text>
<line x1="307.7" y1="189.1" x2="320.9" y2="189.1" stroke="#000" stroke-width="1.3" stroke-dasharray="0.01,1.5" stroke-linecap="round"/>
<text x="321.50" y="191.50" font-size="6.7" font-weight="normal" fill="#555" stroke="#555" stroke-width="0.35" text-anchor="start" >PSF</text>
<rect x="195" y="263.5" width="17" height="5" fill="#fff"/>
<text x="195.5" y="268.2" font-size="4.2" fill="#333" font-weight="bold">-- 'V' hike</text>
<line x1="24.9" y1="415.4" x2="178.8" y2="415.4" stroke="#333" stroke-width="1.4" stroke-dasharray="6,2.4,1.4,2.4"/>
<path d="M24.0,415.2 L60.0,414.8 L70.0,410.0 L75.0,406.0 L80.0,399.0 L84.0,390.0 L86.9,380.0 L90.0,365.0 L94.0,343.0 L98.5,319.0 L100.3,309.0 L102.5,310.0 L105.7,326.5 L108.0,342.0 L110.5,358.0 L113.7,378.0 L117.0,388.0 L120.0,394.0 L125.0,403.0 L130.0,409.0 L140.0,413.5 L150.0,415.0 L178.8,415.4" fill="none" stroke="#000" stroke-width="1.35" stroke-dasharray="0.01,1.85" stroke-linecap="round" stroke-linejoin="round"/>
<path d="M23.9,412.5H26.7V416.2H30.4V404.1H34.1V395.8H36.9V407.8H40.6V398.6H47.0V394.9H51.7V389.4H59.0V385.7H61.8V390.3H64.6V377.3H66.0V374.9H72.3V370.3H75.7V365.0H79.1V357.7H82.6V348.6H86.0V337.1H89.4V330.3H92.9V325.7H96.3V318.9H99.7V306.6H103.0V312.3H106.5V321.2H110.1V326.5H113.7V337.2H117.2V362.0H120.0V364.0H124.0V377.0H128.0V386.0H134.0V388.0H142.0V394.0H147.0V397.0H152.0V395.0H157.0V401.0H161.0V404.0H165.0V414.0H169.0V411.0H171.0V417.0H176.0V401.0H178.8" fill="none" stroke="#1fb04a" stroke-width="2.2" stroke-linejoin="miter" stroke-linecap="butt"/>
<path d="M23.9,404.1H26.7V398.6H30.4V389.4H34.1V386.6H37.8V383.8H41.5V381.0H45.2V378.3H48.9V376.4H52.6V377.3H56.3V376.5H58.6V370.3H62.0V362.3H64.3V356.6H67.7V349.7H71.1V347.4H74.6V337.1H78.0V330.3H82.6V321.1H84.9V312.0H95.1V317.6H99.4V315.8H103.0V314.0H106.5V321.2H110.1V328.3H113.7V337.2H117.2V355.0H119.5V362.0H121.5V368.0H125.0V376.0H128.0V384.0H137.0V382.0H142.0V387.0H146.0V392.0H151.0V393.0H155.0V395.0H159.0V398.0H163.0V403.0H168.0V405.0H172.0V408.0H176.0V411.0H178.8" fill="none" stroke="#d02aa8" stroke-width="2.2" stroke-linejoin="miter" stroke-linecap="butt"/>
<path d="M23.9,400.5 L41.5,384.7 L60.0,372.7 L66.0,366.0 L70.0,359.5 L75.0,350.5 L78.9,339.0 L83.0,331.0 L87.8,322.0 L92.0,315.0 L96.7,308.7 L98.5,307.8 L101.0,311.0 L105.7,324.7 L109.0,335.0 L112.0,342.0 L116.0,356.0 L120.0,368.0 L125.0,380.0 L130.0,390.0 L140.0,397.0 L150.0,402.0 L166.0,409.0 L178.8,412.5" fill="none" stroke="#000" stroke-width="1.8" stroke-dasharray="5,3" stroke-linejoin="round"/>
<rect x="138.5" y="306.3" width="34.00" height="34.20" fill="#fff" stroke="#111" stroke-width="1.2"/>
<line x1="140.60" y1="311.00" x2="153.70" y2="311.00" stroke="#1fb04a" stroke-width="1.8" />
<text x="154.30" y="313.40" font-size="6.7" font-weight="normal" fill="#1fb04a" stroke="#1fb04a" stroke-width="0.35" text-anchor="start" >HCN</text>
<line x1="140.60" y1="318.60" x2="153.70" y2="318.60" stroke="#d02aa8" stroke-width="1.8" />
<text x="154.30" y="321.00" font-size="6.7" font-weight="normal" fill="#d02aa8" stroke="#d02aa8" stroke-width="0.35" text-anchor="start" >NH<tspan font-size="4.9" dy="2.2">2</tspan><tspan dy="-2.2"></tspan></text>
<line x1="139.10" y1="326.40" x2="144.53" y2="326.40" stroke="#000" stroke-width="1.8" />
<line x1="148.72" y1="326.40" x2="153.70" y2="326.40" stroke="#000" stroke-width="1.8" />
<text x="154.30" y="328.80" font-size="6.7" font-weight="normal" fill="#000" stroke="#000" stroke-width="0.35" text-anchor="start" >Cont</text>
<line x1="140.6" y1="333.6" x2="153.7" y2="333.6" stroke="#000" stroke-width="1.3" stroke-dasharray="0.01,1.5" stroke-linecap="round"/>
<text x="154.30" y="336.00" font-size="6.7" font-weight="normal" fill="#666" stroke="#666" stroke-width="0.35" text-anchor="start" >PSF</text>
<rect x="78" y="404" width="45" height="7.5" fill="#fff"/>
<text x="78.50" y="410.70" font-size="8" font-weight="bold" fill="#000" stroke="#000" stroke-width="0.25" text-anchor="start" textLength="43.7" lengthAdjust="spacingAndGlyphs">PSF(18h UT)</text>
<line x1="194.6" y1="415.8" x2="348.3" y2="415.8" stroke="#333" stroke-width="1.4" stroke-dasharray="6,2.4,1.4,2.4"/>
<path d="M193.6,415.8 L213.0,415.0 L223.0,411.0 L233.0,406.0 L242.0,396.0 L246.3,388.0 L250.0,380.0 L253.0,366.0 L257.0,348.0 L260.8,330.0 L264.0,318.0 L267.4,309.6 L271.0,309.0 L274.0,312.0 L276.3,317.6 L280.0,331.0 L284.0,347.0 L288.0,363.0 L291.5,378.0 L294.0,388.0 L297.0,396.0 L301.0,404.0 L308.0,410.0 L315.0,413.0 L321.0,415.0 L347.2,415.8" fill="none" stroke="#000" stroke-width="1.35" stroke-dasharray="0.01,1.85" stroke-linecap="round" stroke-linejoin="round"/>
<path d="M193.6,399.0H194.5V405.0H197.0V411.0H201.0V416.0H206.0V411.0H209.0V398.0H213.0V366.0H216.0V362.0H219.0V371.0H223.0V379.0H226.0V366.0H231.0V365.0H235.0V364.0H239.0V371.0H241.6V350.6H244.2V335.4H247.8V331.9H251.4V316.7H254.9V306.9H258.5V303.3H262.1V315.8H264.7V339.0H270.1V333.7H272.8V318.5H276.3V320.0H280.8V321.2H284.3V331.0H287.9V338.1H292.0V345.0H297.0V354.0H300.0V382.0H304.0V401.0H309.0V393.0H312.0V381.0H315.0V368.0H321.0V374.0H325.0V378.0H328.0V386.0H333.0V389.0H336.0V398.0H342.0V406.0H345.0V417.0H347.2" fill="none" stroke="#f07a22" stroke-width="1.9" stroke-linejoin="miter" stroke-linecap="butt"/>
<path d="M193.6,407.0H195.0V392.0H201.0V395.0H205.0V393.0H209.0V381.0H213.0V383.0H216.0V380.0H219.0V383.0H223.0V384.0H226.3V374.9H233.1V369.1H236.6V362.3H240.0V355.4H243.4V347.4H246.9V342.9H251.4V339.4H254.9V333.7H258.3V326.9H260.6V318.9H264.0V312.0H267.4V309.5H276.3V314.9H279.9V320.3H283.5V325.6H286.1V330.1H289.7V335.0H292.0V343.0H296.0V348.0H299.0V354.0H302.0V357.0H305.0V360.0H309.0V364.0H316.0V370.0H320.0V373.0H325.0V381.0H328.0V395.0H331.0V392.0H335.0V393.0H340.0V392.4H344.0V394.0H347.2" fill="none" stroke="#000" stroke-width="2.4" stroke-linejoin="miter" stroke-linecap="butt"/>
<path d="M193.6,373.8 L205.0,366.5 L214.9,357.7 L226.0,347.5 L237.7,336.0 L245.0,327.5 L251.4,321.1 L256.0,316.5 L260.6,313.1 L265.0,310.3 L268.5,309.3 L272.0,310.5 L275.4,314.0 L280.0,321.0 L284.3,330.1 L292.0,344.0 L301.0,362.0 L311.0,382.0 L318.0,390.0 L325.0,396.0 L335.0,404.0 L347.2,411.0" fill="none" stroke="#000" stroke-width="1.8" stroke-dasharray="5,3" stroke-linejoin="round"/>
<rect x="307.6" y="303.3" width="33.60" height="36.10" fill="#fff" stroke="#111" stroke-width="1.2"/>
<line x1="308.70" y1="310.00" x2="321.90" y2="310.00" stroke="#1a0505" stroke-width="1.8" />
<text x="322.90" y="312.40" font-size="6.7" font-weight="normal" fill="#1a0505" stroke="#1a0505" stroke-width="0.35" text-anchor="start" >H<tspan font-size="4.9" dy="2.2">2</tspan><tspan dy="-2.2">O</tspan></text>
<line x1="308.70" y1="318.40" x2="321.90" y2="318.40" stroke="#f07a22" stroke-width="1.8" />
<text x="322.90" y="320.80" font-size="6.7" font-weight="normal" fill="#f07a22" stroke="#f07a22" stroke-width="0.35" text-anchor="start" >NH<tspan font-size="4.9" dy="2.2">3</tspan><tspan dy="-2.2"></tspan></text>
<line x1="307.20" y1="326.70" x2="312.66" y2="326.70" stroke="#000" stroke-width="1.8" />
<line x1="316.88" y1="326.70" x2="321.90" y2="326.70" stroke="#000" stroke-width="1.8" />
<text x="322.90" y="329.10" font-size="6.7" font-weight="normal" fill="#000" stroke="#000" stroke-width="0.35" text-anchor="start" >Cont</text>
<line x1="308.7" y1="333.8" x2="321.9" y2="333.8" stroke="#000" stroke-width="1.3" stroke-dasharray="0.01,1.5" stroke-linecap="round"/>
<text x="322.90" y="336.20" font-size="6.7" font-weight="normal" fill="#555" stroke="#555" stroke-width="0.35" text-anchor="start" >PSF</text>
<rect x="247" y="388" width="45" height="7.5" fill="#fff"/>
<text x="247.70" y="395.30" font-size="8" font-weight="bold" fill="#000" stroke="#000" stroke-width="0.25" text-anchor="start" textLength="43.7" lengthAdjust="spacingAndGlyphs">PSF(23h UT)</text>
</svg>
</body></html>
